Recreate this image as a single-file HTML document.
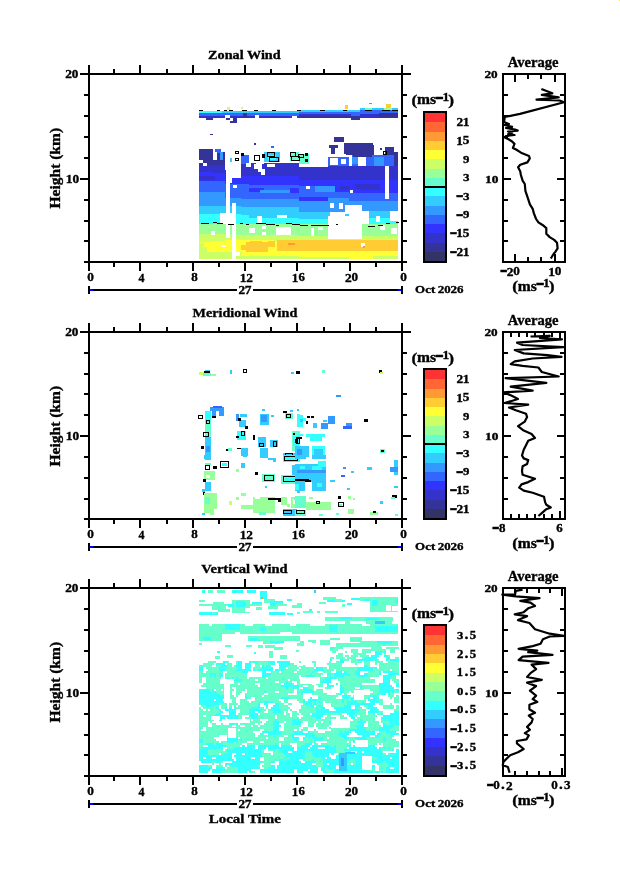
<!DOCTYPE html>
<html><head><meta charset="utf-8"><title>Wind profiles</title>
<style>html,body{margin:0;padding:0;background:#fff;overflow:hidden;}svg{display:block;}text{fill:#000;stroke:#000;stroke-width:0.35px;}</style>
</head><body><svg width="620" height="873" viewBox="0 0 620 873" shape-rendering="crispEdges"><rect x="199" y="111" width="199" height="2" fill="#33ccff"/>
<rect x="199" y="113" width="199" height="2.5" fill="#3366ff"/>
<rect x="199" y="115.5" width="199" height="2" fill="#3333cc"/>
<rect x="199" y="111" width="23" height="1.5" fill="#33ffff"/>
<rect x="206" y="117.5" width="7" height="2.5" fill="#333399"/>
<rect x="225" y="114.5" width="5" height="3.5" fill="#ffffff"/>
<rect x="226" y="118" width="4" height="1.6" fill="#333399"/>
<rect x="233" y="117" width="4" height="6" fill="#333399"/>
<rect x="230" y="121" width="7" height="2" fill="#333399"/>
<rect x="243" y="113" width="4" height="4.5" fill="#333399"/>
<rect x="255" y="115" width="4" height="3" fill="#ffffff"/>
<rect x="292" y="116" width="5" height="2" fill="#ffffff"/>
<rect x="299" y="109.5" width="61" height="2" fill="#33ccff"/>
<rect x="299" y="111.5" width="52" height="2.5" fill="#3366ff"/>
<rect x="299" y="114" width="52" height="1.5" fill="#3333cc"/>
<rect x="299" y="115.5" width="52" height="2.5" fill="#333399"/>
<rect x="351" y="112" width="9" height="4" fill="#3366ff"/>
<rect x="351" y="116" width="9" height="4" fill="#333399"/>
<rect x="360" y="107.5" width="38" height="2.5" fill="#33ccff"/>
<rect x="360" y="110" width="38" height="4" fill="#3366ff"/>
<rect x="379" y="113" width="19" height="4" fill="#333399"/>
<rect x="360" y="114" width="19" height="2" fill="#3333cc"/>
<rect x="199" y="109.5" width="4" height="1.5" fill="#000000"/>
<rect x="217" y="109.5" width="3" height="1.5" fill="#000000"/>
<rect x="224" y="109.5" width="3" height="1.5" fill="#000000"/>
<rect x="229" y="109.5" width="4" height="1.5" fill="#000000"/>
<rect x="242" y="109.5" width="5" height="1.5" fill="#000000"/>
<rect x="254" y="109.5" width="4" height="1.5" fill="#000000"/>
<rect x="272" y="109.5" width="4" height="1.5" fill="#000000"/>
<rect x="297" y="109.5" width="4" height="1.5" fill="#000000"/>
<rect x="320" y="109.5" width="5" height="1.5" fill="#000000"/>
<rect x="343" y="109.5" width="4" height="1.5" fill="#000000"/>
<rect x="365" y="109.5" width="7" height="1.5" fill="#000000"/>
<rect x="382" y="109.5" width="8" height="1.5" fill="#000000"/>
<rect x="392" y="109.5" width="6" height="1.5" fill="#000000"/>
<rect x="226.5" y="107" width="3.5" height="3" fill="#ccff66"/>
<rect x="241" y="107" width="2" height="2" fill="#ccff66"/>
<rect x="345" y="105" width="3" height="3.5" fill="#ffcc33"/>
<rect x="369" y="102.5" width="3" height="1.5" fill="#ff6633"/>
<rect x="386" y="104" width="5" height="3.5" fill="#ffcc33"/>
<rect x="365" y="108" width="7" height="2" fill="#66ffcc"/>
<rect x="384" y="107.5" width="8" height="2" fill="#99ff99"/>
<rect x="210" y="133.7" width="3" height="1" fill="#333399"/>
<rect x="254" y="143" width="2" height="2" fill="#333399"/>
<rect x="270.6" y="145.6" width="3.4" height="2.1" fill="#3366ff"/>
<rect x="199" y="149.3" width="14" height="15.2" fill="#333399"/>
<rect x="199" y="164.5" width="14" height="7.5" fill="#3333cc"/>
<rect x="199" y="172" width="14" height="8.5" fill="#3333ff"/>
<rect x="199" y="180.5" width="14" height="11.2" fill="#3366ff"/>
<rect x="199" y="191.7" width="14" height="13.9" fill="#3399ff"/>
<rect x="199" y="205.6" width="14" height="8.4" fill="#33ccff"/>
<rect x="199" y="214" width="14" height="9.5" fill="#33ffff"/>
<rect x="199" y="223.5" width="14" height="10.1" fill="#99ff99"/>
<rect x="199" y="233.6" width="14" height="8.4" fill="#ccff66"/>
<rect x="199" y="242" width="14" height="9.7" fill="#ffff33"/>
<rect x="199" y="251.7" width="14" height="7.3" fill="#ccff66"/>
<rect x="213" y="152" width="12" height="12.5" fill="#333399"/>
<rect x="213" y="164.5" width="12" height="8.5" fill="#3333cc"/>
<rect x="213" y="173" width="12" height="8" fill="#3333ff"/>
<rect x="213" y="181" width="12" height="11" fill="#3366ff"/>
<rect x="213" y="192" width="12" height="14" fill="#3399ff"/>
<rect x="213" y="206" width="12" height="8" fill="#33ccff"/>
<rect x="213" y="214" width="12" height="9.5" fill="#33ffff"/>
<rect x="213" y="223.5" width="12" height="10.5" fill="#99ff99"/>
<rect x="213" y="234" width="12" height="7" fill="#ccff66"/>
<rect x="213" y="241" width="12" height="10.7" fill="#ffff33"/>
<rect x="213" y="251.7" width="12" height="7.3" fill="#ccff66"/>
<rect x="225" y="170" width="16" height="8" fill="#3333cc"/>
<rect x="225" y="178" width="16" height="6" fill="#3333ff"/>
<rect x="225" y="184" width="16" height="14" fill="#3366ff"/>
<rect x="225" y="198" width="16" height="8" fill="#3399ff"/>
<rect x="225" y="206" width="16" height="8" fill="#33ccff"/>
<rect x="225" y="214" width="16" height="9.5" fill="#33ffff"/>
<rect x="225" y="223.5" width="16" height="11.5" fill="#99ff99"/>
<rect x="225" y="235" width="16" height="5" fill="#ccff66"/>
<rect x="225" y="240" width="16" height="11.7" fill="#ffff33"/>
<rect x="225" y="251.7" width="16" height="7.3" fill="#ccff66"/>
<rect x="241" y="155" width="8" height="9" fill="#3366ff"/>
<rect x="241" y="164" width="8" height="12" fill="#3333cc"/>
<rect x="241" y="176" width="8" height="8" fill="#3333ff"/>
<rect x="241" y="184" width="8" height="15" fill="#3366ff"/>
<rect x="241" y="199" width="8" height="8" fill="#3399ff"/>
<rect x="241" y="207" width="8" height="8" fill="#33ccff"/>
<rect x="241" y="215" width="8" height="8.5" fill="#33ffff"/>
<rect x="241" y="223.5" width="8" height="11.5" fill="#99ff99"/>
<rect x="241" y="235" width="8" height="5" fill="#ccff66"/>
<rect x="241" y="240" width="8" height="11" fill="#ffff33"/>
<rect x="241" y="251" width="8" height="5" fill="#ffff33"/>
<rect x="241" y="256" width="8" height="3" fill="#ccff66"/>
<rect x="249" y="164" width="15" height="12" fill="#3333cc"/>
<rect x="249" y="176" width="15" height="9" fill="#3333ff"/>
<rect x="249" y="185" width="15" height="14" fill="#3366ff"/>
<rect x="249" y="199" width="15" height="8" fill="#3399ff"/>
<rect x="249" y="207" width="15" height="11" fill="#33ccff"/>
<rect x="249" y="218" width="15" height="6" fill="#33ffff"/>
<rect x="249" y="224" width="15" height="11" fill="#99ff99"/>
<rect x="249" y="235" width="15" height="5" fill="#ccff66"/>
<rect x="249" y="240" width="15" height="12" fill="#ffff33"/>
<rect x="249" y="252" width="15" height="4" fill="#ffff33"/>
<rect x="249" y="256" width="15" height="3" fill="#ccff66"/>
<rect x="264" y="163" width="10" height="13" fill="#3333cc"/>
<rect x="264" y="176" width="10" height="9" fill="#3333ff"/>
<rect x="264" y="185" width="10" height="14" fill="#3366ff"/>
<rect x="264" y="199" width="10" height="8" fill="#3399ff"/>
<rect x="264" y="207" width="10" height="11" fill="#33ccff"/>
<rect x="264" y="218" width="10" height="6" fill="#33ffff"/>
<rect x="264" y="224" width="10" height="11" fill="#99ff99"/>
<rect x="264" y="235" width="10" height="5" fill="#ccff66"/>
<rect x="264" y="240" width="10" height="12" fill="#ffff33"/>
<rect x="264" y="252" width="10" height="4" fill="#ffff33"/>
<rect x="264" y="256" width="10" height="3" fill="#ccff66"/>
<rect x="274" y="163" width="3" height="13" fill="#3333cc"/>
<rect x="274" y="176" width="3" height="9" fill="#3333ff"/>
<rect x="274" y="185" width="3" height="14" fill="#3366ff"/>
<rect x="274" y="199" width="3" height="8" fill="#3399ff"/>
<rect x="274" y="207" width="3" height="11" fill="#33ccff"/>
<rect x="274" y="218" width="3" height="6" fill="#33ffff"/>
<rect x="274" y="224" width="3" height="11" fill="#99ff99"/>
<rect x="274" y="235" width="3" height="6" fill="#ccff66"/>
<rect x="274" y="241" width="3" height="15" fill="#ffff33"/>
<rect x="274" y="256" width="3" height="3" fill="#ccff66"/>
<rect x="277" y="163" width="22" height="13" fill="#3333cc"/>
<rect x="277" y="176" width="22" height="9" fill="#3333ff"/>
<rect x="277" y="185" width="22" height="14" fill="#3366ff"/>
<rect x="277" y="199" width="22" height="8" fill="#3399ff"/>
<rect x="277" y="207" width="22" height="11" fill="#33ccff"/>
<rect x="277" y="218" width="22" height="6" fill="#33ffff"/>
<rect x="277" y="224" width="22" height="11" fill="#99ff99"/>
<rect x="277" y="235" width="22" height="5" fill="#ccff66"/>
<rect x="277" y="240" width="22" height="12" fill="#ffff33"/>
<rect x="277" y="252" width="22" height="4" fill="#ffff33"/>
<rect x="277" y="256" width="22" height="3" fill="#ccff66"/>
<rect x="299" y="167" width="29" height="13" fill="#3333cc"/>
<rect x="299" y="180" width="29" height="6" fill="#3333ff"/>
<rect x="299" y="186" width="29" height="10.5" fill="#3366ff"/>
<rect x="299" y="196.5" width="29" height="4.5" fill="#3333ff"/>
<rect x="299" y="201" width="29" height="10.6" fill="#3399ff"/>
<rect x="299" y="211.6" width="29" height="7.4" fill="#33ccff"/>
<rect x="299" y="219" width="29" height="5" fill="#33ffff"/>
<rect x="299" y="224" width="29" height="11.8" fill="#99ff99"/>
<rect x="299" y="235.8" width="29" height="4.6" fill="#ccff66"/>
<rect x="299" y="240.4" width="29" height="10.6" fill="#ffcc33"/>
<rect x="299" y="251" width="29" height="6" fill="#ffff33"/>
<rect x="299" y="257" width="29" height="2" fill="#ccff66"/>
<rect x="328" y="156.5" width="21" height="9.5" fill="#3366ff"/>
<rect x="328" y="166" width="21" height="14" fill="#3333cc"/>
<rect x="328" y="180" width="21" height="12" fill="#3333ff"/>
<rect x="328" y="192" width="21" height="6" fill="#3366ff"/>
<rect x="328" y="198" width="21" height="13.6" fill="#3399ff"/>
<rect x="328" y="211.6" width="21" height="4.4" fill="#33ccff"/>
<rect x="328" y="239" width="21" height="1.4" fill="#ccff66"/>
<rect x="328" y="240.4" width="21" height="10.6" fill="#ffcc33"/>
<rect x="328" y="251" width="21" height="6" fill="#ffff33"/>
<rect x="328" y="257" width="21" height="2" fill="#ccff66"/>
<rect x="349" y="155" width="13" height="11" fill="#3366ff"/>
<rect x="349" y="166" width="13" height="14" fill="#3333cc"/>
<rect x="349" y="180" width="13" height="13" fill="#3333ff"/>
<rect x="349" y="193" width="13" height="8" fill="#3366ff"/>
<rect x="349" y="201" width="13" height="4" fill="#3399ff"/>
<rect x="349" y="239" width="13" height="1" fill="#ccff66"/>
<rect x="349" y="240" width="13" height="11" fill="#ffcc33"/>
<rect x="349" y="251" width="13" height="8" fill="#ffff33"/>
<rect x="362" y="155" width="11" height="11" fill="#3366ff"/>
<rect x="362" y="166" width="11" height="14" fill="#3333cc"/>
<rect x="362" y="180" width="11" height="13" fill="#3333ff"/>
<rect x="362" y="193" width="11" height="8" fill="#3366ff"/>
<rect x="362" y="201" width="11" height="10" fill="#3399ff"/>
<rect x="362" y="211" width="11" height="7" fill="#33ccff"/>
<rect x="362" y="218" width="11" height="6" fill="#33ffff"/>
<rect x="362" y="224" width="11" height="12" fill="#99ff99"/>
<rect x="362" y="236" width="11" height="4" fill="#ccff66"/>
<rect x="362" y="240" width="11" height="11" fill="#ffcc33"/>
<rect x="362" y="251" width="11" height="8" fill="#ffff33"/>
<rect x="373" y="155" width="25" height="11" fill="#3366ff"/>
<rect x="373" y="166" width="25" height="14" fill="#3333cc"/>
<rect x="373" y="180" width="25" height="13" fill="#3333ff"/>
<rect x="373" y="193" width="25" height="8" fill="#3366ff"/>
<rect x="373" y="201" width="25" height="10" fill="#3399ff"/>
<rect x="373" y="211" width="25" height="7" fill="#33ccff"/>
<rect x="373" y="218" width="25" height="6" fill="#33ffff"/>
<rect x="373" y="224" width="25" height="12" fill="#99ff99"/>
<rect x="373" y="236" width="25" height="4" fill="#ccff66"/>
<rect x="373" y="240" width="25" height="11" fill="#ffcc33"/>
<rect x="373" y="251" width="25" height="5" fill="#ffff33"/>
<rect x="373" y="256" width="25" height="3" fill="#ccff66"/>
<rect x="199" y="176" width="16" height="4" fill="#3333cc"/>
<rect x="249" y="188" width="15" height="4" fill="#3333ff"/>
<rect x="290" y="188" width="9" height="5" fill="#3333ff"/>
<rect x="260" y="190" width="30" height="3" fill="#3399ff"/>
<rect x="315" y="186" width="20" height="6" fill="#3399ff"/>
<rect x="355" y="184" width="25" height="5" fill="#3333cc"/>
<rect x="288" y="243.4" width="7" height="1.3" fill="#ff9933"/>
<rect x="376" y="216" width="4" height="6" fill="#ffffff"/>
<rect x="199" y="149.3" width="4" height="5.7" fill="#333399"/>
<rect x="199" y="160" width="4" height="3" fill="#ffffff"/>
<rect x="203" y="163" width="4" height="3" fill="#ffffff"/>
<rect x="213" y="152" width="4" height="8" fill="#ffffff"/>
<rect x="217" y="149" width="3" height="4" fill="#3366ff"/>
<rect x="220" y="152" width="3" height="12" fill="#3399ff"/>
<rect x="213" y="160" width="11" height="4.5" fill="#333399"/>
<rect x="215" y="149" width="6" height="3" fill="#3366ff"/>
<rect x="230.4" y="157.7" width="1.6" height="4.3" fill="#33ccff"/>
<rect x="240.5" y="155" width="7.5" height="17" fill="#3366ff"/>
<rect x="241" y="164" width="7" height="8" fill="#3333cc"/>
<rect x="251" y="162.7" width="5" height="9.3" fill="#3333cc"/>
<rect x="246" y="163" width="5" height="4" fill="#ffffff"/>
<rect x="254" y="164" width="8" height="5" fill="#ffffff"/>
<rect x="258" y="169" width="7" height="3" fill="#ffffff"/>
<rect x="260.5" y="172" width="4.5" height="3" fill="#ffffff"/>
<rect x="266.5" y="164" width="8.5" height="3" fill="#ffffff"/>
<rect x="264" y="152" width="16" height="10" fill="#33ccff"/>
<rect x="268" y="155" width="8" height="5" fill="#33ffff"/>
<rect x="290" y="152" width="9" height="9" fill="#66ffcc"/>
<rect x="299" y="154" width="10" height="10" fill="#66ffcc"/>
<rect x="333.7" y="136.8" width="10.3" height="5.2" fill="#333399"/>
<rect x="329" y="145" width="9" height="3" fill="#333399"/>
<rect x="331" y="148" width="4" height="6" fill="#333399"/>
<rect x="344" y="143" width="5" height="11" fill="#333399"/>
<rect x="349" y="143" width="24" height="12" fill="#333399"/>
<rect x="346" y="145" width="28" height="10" fill="#333399"/>
<rect x="353" y="150" width="19" height="7" fill="#333399"/>
<rect x="344" y="142.5" width="13" height="7.5" fill="#333399"/>
<rect x="385" y="147" width="9" height="8" fill="#333399"/>
<rect x="380" y="150" width="5" height="5" fill="#ffffff"/>
<rect x="394" y="152" width="4" height="14" fill="#333399"/>
<rect x="380" y="148" width="2" height="2" fill="#333399"/>
<rect x="330" y="158" width="8" height="7" fill="#ffffff"/>
<rect x="341" y="159" width="5" height="5" fill="#ffffff"/>
<rect x="349" y="155" width="3" height="11" fill="#ffffff"/>
<rect x="352" y="157" width="6" height="7" fill="#3399ff"/>
<rect x="358" y="157" width="8" height="9" fill="#ffffff"/>
<rect x="374" y="157" width="10" height="9" fill="#3399ff"/>
<rect x="225.5" y="163.7" width="4.9" height="74.1" fill="#ffffff"/>
<rect x="230.4" y="170" width="10.6" height="8" fill="#ffffff"/>
<rect x="232" y="203" width="4" height="56" fill="#ffffff"/>
<rect x="220" y="212.6" width="12" height="11.4" fill="#ffffff"/>
<rect x="230" y="178" width="2" height="5" fill="#ffffff"/>
<rect x="233" y="185" width="4" height="3" fill="#ffffff"/>
<rect x="384.5" y="166" width="4.1" height="33" fill="#ffffff"/>
<rect x="390" y="211" width="8" height="10" fill="#ffffff"/>
<rect x="391" y="228" width="6" height="6" fill="#ffffff"/>
<rect x="257" y="216" width="4.6" height="8" fill="#ffffff"/>
<rect x="277" y="215.4" width="9.7" height="2.6" fill="#ffffff"/>
<rect x="276" y="226.6" width="15" height="8.4" fill="#ffffff"/>
<rect x="249" y="228" width="6" height="5" fill="#ffffff"/>
<rect x="262" y="226" width="4" height="3" fill="#ffffff"/>
<rect x="262" y="232" width="4" height="3" fill="#ffffff"/>
<rect x="311" y="228" width="3" height="8" fill="#ffffff"/>
<rect x="318" y="227" width="5" height="3" fill="#ffffff"/>
<rect x="330" y="203" width="3.7" height="5" fill="#ffffff"/>
<rect x="339" y="203" width="4" height="5.6" fill="#ffffff"/>
<rect x="345" y="211.6" width="4" height="2.4" fill="#ffffff"/>
<rect x="345" y="205" width="4" height="8" fill="#ffffff"/>
<rect x="361" y="242.6" width="4" height="4.4" fill="#ffffff"/>
<rect x="363" y="246" width="2" height="2" fill="#ff9933"/>
<rect x="211" y="231" width="4" height="4" fill="#ffffff"/>
<rect x="222" y="245" width="4" height="2" fill="#ffffff"/>
<rect x="236" y="252" width="4" height="4" fill="#ffffff"/>
<rect x="350" y="190" width="3" height="3" fill="#ffffff"/>
<rect x="380" y="225" width="5" height="5" fill="#ffffff"/>
<rect x="241" y="245" width="5" height="5" fill="#ffcc33"/>
<rect x="246" y="241.5" width="22" height="10" fill="#ffcc33"/>
<rect x="268" y="240.6" width="7" height="6.4" fill="#ffcc33"/>
<rect x="250" y="240.5" width="12" height="1" fill="#ffcc33"/>
<rect x="277" y="240" width="22" height="10.5" fill="#ffcc33"/>
<rect x="288" y="242.8" width="7" height="2" fill="#ff9933"/>
<rect x="199" y="243" width="5" height="10" fill="#ccff66"/>
<rect x="204" y="247" width="3" height="6" fill="#ccff66"/>
<rect x="201" y="222.5" width="8.4" height="1.3" fill="#000000"/>
<rect x="212.8" y="222" width="4.2" height="1.3" fill="#000000"/>
<rect x="217" y="223" width="6" height="1.3" fill="#000000"/>
<rect x="228" y="223.5" width="6" height="1.3" fill="#000000"/>
<rect x="240" y="223" width="3" height="1.3" fill="#000000"/>
<rect x="246" y="223.5" width="3" height="1.3" fill="#000000"/>
<rect x="256.4" y="223" width="9.6" height="1.3" fill="#000000"/>
<rect x="266" y="224" width="9" height="1.3" fill="#000000"/>
<rect x="276" y="224.5" width="3" height="1.3" fill="#000000"/>
<rect x="285.8" y="223" width="6.2" height="1.3" fill="#000000"/>
<rect x="292" y="224" width="8" height="1.3" fill="#000000"/>
<rect x="300" y="224.5" width="8" height="1.3" fill="#000000"/>
<rect x="311" y="225" width="9" height="1.3" fill="#000000"/>
<rect x="320" y="224.5" width="9" height="1.3" fill="#000000"/>
<rect x="336" y="224" width="2" height="1.3" fill="#000000"/>
<rect x="368" y="226" width="7" height="1.3" fill="#000000"/>
<rect x="378" y="225" width="5" height="1.3" fill="#000000"/>
<rect x="386" y="223" width="4" height="1.3" fill="#000000"/>
<rect x="396" y="221.5" width="3" height="1.3" fill="#000000"/>
<rect x="235.5" y="151" width="3" height="2.5" fill="none" stroke="#000" stroke-width="1"/>
<rect x="241" y="152.5" width="3" height="3" fill="#000000"/>
<rect x="235.5" y="158.5" width="3" height="2" fill="none" stroke="#000" stroke-width="1"/>
<rect x="254" y="155.5" width="5.5" height="5" fill="none" stroke="#000" stroke-width="1"/>
<rect x="262" y="154" width="3" height="4" fill="#000000"/>
<rect x="267.5" y="152.5" width="7" height="4" fill="none" stroke="#000" stroke-width="1"/>
<rect x="269.5" y="157" width="9" height="4" fill="none" stroke="#000" stroke-width="1"/>
<rect x="290" y="152" width="5.5" height="4" fill="none" stroke="#000" stroke-width="1"/>
<rect x="291.5" y="156.5" width="8" height="4" fill="none" stroke="#000" stroke-width="1"/>
<rect x="298.5" y="154.5" width="5" height="3" fill="none" stroke="#000" stroke-width="1"/>
<rect x="305" y="153" width="3" height="3" fill="#000000"/>
<rect x="305" y="159" width="3" height="3" fill="#000000"/>
<rect x="383.5" y="151.5" width="3" height="3" fill="none" stroke="#000" stroke-width="1"/>
<rect x="305.6" y="185.6" width="4.1" height="3.4" fill="#ffffff"/>
<rect x="340" y="186" width="9" height="4" fill="#3333cc"/>
<rect x="360" y="184" width="20" height="6" fill="#3333cc"/>
<rect x="362" y="210.5" width="7" height="13.5" fill="#ffffff"/>
<rect x="330" y="212" width="15" height="4" fill="#ffffff"/>
<rect x="199" y="372" width="7" height="2.5" fill="#ccff66"/>
<rect x="206" y="373.5" width="10" height="2.5" fill="#99ff99"/>
<rect x="203" y="373" width="8" height="3" fill="#66ffcc"/>
<rect x="205" y="369.5" width="5" height="1.5" fill="#33ccff"/>
<rect x="204" y="371" width="6" height="1.5" fill="#000000"/>
<rect x="230" y="370" width="2" height="3.6" fill="#33ccff"/>
<rect x="243.5" y="369.5" width="3" height="2.7" fill="none" stroke="#000" stroke-width="1"/>
<rect x="291" y="372" width="3" height="1.6" fill="#33ccff"/>
<rect x="296" y="371" width="4" height="2.6" fill="#000000"/>
<rect x="322" y="369.7" width="3" height="2.8" fill="#66ffcc"/>
<rect x="379" y="370" width="3" height="3" fill="#000000"/>
<rect x="380" y="372" width="3" height="2" fill="#ccff66"/>
<rect x="335.6" y="394.6" width="5.2" height="2.1" fill="#3399ff"/>
<rect x="210" y="406.8" width="14" height="4.2" fill="#3399ff"/>
<rect x="212" y="411" width="4" height="5" fill="#3399ff"/>
<rect x="219" y="411" width="5" height="5" fill="#3399ff"/>
<rect x="213" y="406" width="9" height="2" fill="#3366ff"/>
<rect x="205" y="411" width="6" height="11" fill="#33ffff"/>
<rect x="205" y="422" width="6" height="15" fill="#66ffcc"/>
<rect x="205" y="437" width="6" height="23" fill="#33ccff"/>
<rect x="206" y="446" width="4" height="6" fill="#3399ff"/>
<rect x="198" y="415.5" width="4.1" height="2.6" fill="none" stroke="#000" stroke-width="1"/>
<rect x="206.5" y="420" width="3" height="3.5" fill="none" stroke="#000" stroke-width="1"/>
<rect x="203.5" y="432.5" width="5" height="4" fill="none" stroke="#000" stroke-width="1"/>
<rect x="201" y="446" width="2.5" height="3" fill="#000000"/>
<rect x="212" y="416" width="4" height="1.5" fill="#000000"/>
<rect x="235.6" y="414.4" width="3.4" height="6.1" fill="#3399ff"/>
<rect x="240" y="414.4" width="7" height="2.6" fill="#33ccff"/>
<rect x="239" y="420" width="7" height="7" fill="#33ccff"/>
<rect x="238" y="418" width="3" height="3" fill="#000000"/>
<rect x="245" y="425.5" width="2.5" height="3.3" fill="#000000"/>
<rect x="236.5" y="430.5" width="9.5" height="9.5" fill="#33ffff"/>
<rect x="241.5" y="431.5" width="3" height="3.5" fill="none" stroke="#000" stroke-width="1"/>
<rect x="236" y="436" width="3" height="2" fill="#000000"/>
<rect x="240.7" y="448" width="6.8" height="8" fill="#33ccff"/>
<rect x="237" y="447.5" width="4" height="1.5" fill="#000000"/>
<rect x="225.5" y="449" width="3.5" height="2" fill="#000000"/>
<rect x="228" y="448" width="4" height="3" fill="#66ffcc"/>
<rect x="260" y="413.5" width="8.7" height="11" fill="#33ccff"/>
<rect x="261" y="415" width="6" height="7" fill="#3399ff"/>
<rect x="262" y="409" width="3" height="2" fill="#33ccff"/>
<rect x="271" y="415" width="3" height="2" fill="#33ccff"/>
<rect x="252.6" y="434.7" width="2.4" height="5.3" fill="#000000"/>
<rect x="258" y="437" width="8" height="10.4" fill="#33ccff"/>
<rect x="259.5" y="443.5" width="4" height="3" fill="none" stroke="#000" stroke-width="1"/>
<rect x="269.5" y="439.8" width="8.5" height="6.8" fill="#33ccff"/>
<rect x="273.5" y="441" width="3" height="5.1" fill="none" stroke="#000" stroke-width="1"/>
<rect x="260" y="448" width="8" height="9.6" fill="#33ccff"/>
<rect x="268" y="457.6" width="7" height="2.4" fill="#33ccff"/>
<rect x="285" y="413" width="8" height="6" fill="#66ffcc"/>
<rect x="286.5" y="414" width="4" height="3" fill="none" stroke="#000" stroke-width="1"/>
<rect x="290" y="410" width="3" height="2" fill="#33ccff"/>
<rect x="296.6" y="413.5" width="3.4" height="13.5" fill="#33ffff"/>
<rect x="283" y="411" width="4" height="2" fill="#000000"/>
<rect x="291.5" y="430.5" width="8.5" height="20.5" fill="#66ffcc"/>
<rect x="293" y="436" width="6" height="10" fill="#33ffff"/>
<rect x="296.5" y="437.5" width="3" height="6" fill="none" stroke="#000" stroke-width="1"/>
<rect x="293" y="433" width="3" height="2" fill="#000000"/>
<rect x="283" y="452.5" width="15" height="7.5" fill="#33ccff"/>
<rect x="285.5" y="453" width="7" height="2.5" fill="none" stroke="#000" stroke-width="1"/>
<rect x="296.8" y="415" width="6.2" height="11.6" fill="#33ffff"/>
<rect x="300" y="419" width="3" height="3" fill="#33ccff"/>
<rect x="307" y="416" width="3" height="2" fill="#000000"/>
<rect x="311" y="416" width="3" height="2" fill="#000000"/>
<rect x="306" y="421" width="2" height="3" fill="#000000"/>
<rect x="303" y="418" width="3" height="3" fill="#33ffff"/>
<rect x="296.8" y="409" width="2.6" height="1.6" fill="#33ccff"/>
<rect x="312.7" y="423" width="4.3" height="5.4" fill="#33ccff"/>
<rect x="320.7" y="423" width="7.1" height="6.3" fill="#3399ff"/>
<rect x="327.8" y="416" width="7.2" height="8" fill="#3399ff"/>
<rect x="323" y="420" width="4" height="2" fill="#33ccff"/>
<rect x="343" y="425.5" width="9" height="3.8" fill="#3366ff"/>
<rect x="346" y="423" width="6" height="3" fill="#3399ff"/>
<rect x="364" y="418.6" width="3.7" height="3.4" fill="#000000"/>
<rect x="296" y="437" width="6" height="2" fill="#000000"/>
<rect x="295" y="439" width="3" height="4" fill="#000000"/>
<rect x="298" y="434" width="5" height="2" fill="#33ffff"/>
<rect x="295" y="433" width="2" height="3" fill="#66ffcc"/>
<rect x="305.6" y="433.7" width="19.4" height="3.3" fill="#33ffff"/>
<rect x="310" y="437" width="12" height="3.8" fill="#33ffff"/>
<rect x="295" y="446" width="14" height="11" fill="#33ccff"/>
<rect x="297" y="449" width="5" height="6" fill="#3399ff"/>
<rect x="312" y="446" width="13" height="13" fill="#33ffff"/>
<rect x="314" y="449" width="9" height="9" fill="#33ccff"/>
<rect x="380" y="448.8" width="4.6" height="4.2" fill="#66ffcc"/>
<rect x="381" y="449.5" width="3" height="2.5" fill="#000000"/>
<rect x="204" y="455" width="7" height="4" fill="#33ccff"/>
<rect x="205" y="462.6" width="6" height="2.4" fill="#66ffcc"/>
<rect x="205.5" y="465.5" width="4" height="4" fill="none" stroke="#000" stroke-width="1"/>
<rect x="213" y="466" width="4" height="2.5" fill="#000000"/>
<rect x="220.5" y="461.5" width="8" height="6" fill="none" stroke="#000" stroke-width="1"/>
<rect x="222" y="463" width="5" height="3" fill="#33ffff"/>
<rect x="203.5" y="471" width="11.5" height="8.5" fill="#99ff99"/>
<rect x="206" y="475" width="4" height="2.5" fill="#ffffff"/>
<rect x="203" y="479" width="3" height="3" fill="#000000"/>
<rect x="205" y="482" width="6" height="8.6" fill="#33ccff"/>
<rect x="202" y="489" width="3" height="2.5" fill="#33ccff"/>
<rect x="203" y="492" width="2" height="2.5" fill="#000000"/>
<rect x="203.5" y="493" width="13.5" height="19.6" fill="#99ff99"/>
<rect x="205" y="497" width="5" height="7" fill="#66ffcc"/>
<rect x="214" y="509" width="3" height="4" fill="#ffffff"/>
<rect x="202" y="512.6" width="3" height="2.4" fill="#33ccff"/>
<rect x="210" y="513" width="4" height="2" fill="#99ff99"/>
<rect x="240.7" y="462.6" width="4.3" height="5.1" fill="#33ccff"/>
<rect x="235.6" y="468.5" width="3.4" height="3.5" fill="#99ff99"/>
<rect x="229" y="500.7" width="3" height="4.3" fill="#ccff66"/>
<rect x="236" y="497" width="3" height="2.5" fill="#99ff99"/>
<rect x="241" y="493" width="5" height="2.5" fill="#99ff99"/>
<rect x="240.7" y="505" width="13.3" height="4" fill="#99ff99"/>
<rect x="252.6" y="496.5" width="22" height="16.1" fill="#99ff99"/>
<rect x="259" y="512" width="7" height="3" fill="#66ffcc"/>
<rect x="255" y="496.5" width="5" height="2.5" fill="#ffffff"/>
<rect x="268" y="497.5" width="15" height="2.5" fill="#000000"/>
<rect x="278" y="499.5" width="5" height="2.3" fill="#000000"/>
<rect x="281" y="497" width="6" height="8" fill="#99ff99"/>
<rect x="286.5" y="504" width="3.5" height="3" fill="#99ff99"/>
<rect x="290.7" y="496.5" width="9.3" height="11" fill="#99ff99"/>
<rect x="293" y="499" width="4" height="5" fill="#ffffff"/>
<rect x="294" y="497" width="5" height="3" fill="#66ffcc"/>
<rect x="283" y="509" width="13.6" height="7" fill="#33ccff"/>
<rect x="283.5" y="510.5" width="8" height="3" fill="none" stroke="#000" stroke-width="1"/>
<rect x="243" y="455" width="4" height="2" fill="#33ccff"/>
<rect x="261" y="455" width="7" height="3.4" fill="#33ccff"/>
<rect x="273" y="458.4" width="3" height="3.4" fill="#33ccff"/>
<rect x="283" y="455" width="17" height="6.8" fill="#33ffff"/>
<rect x="284.5" y="456.5" width="13" height="4" fill="none" stroke="#000" stroke-width="1"/>
<rect x="291.5" y="465" width="8.5" height="10" fill="#33ccff"/>
<rect x="295" y="468" width="5" height="5" fill="#3399ff"/>
<rect x="255" y="472" width="2.7" height="3" fill="#000000"/>
<rect x="262" y="473.6" width="13.4" height="8.4" fill="#66ffcc"/>
<rect x="264.5" y="475.5" width="9" height="5" fill="none" stroke="#000" stroke-width="1"/>
<rect x="266" y="476.5" width="6" height="3" fill="#66ffcc"/>
<rect x="281.4" y="474.5" width="18.6" height="9.3" fill="#66ffcc"/>
<rect x="283.5" y="476.5" width="16" height="5" fill="none" stroke="#000" stroke-width="1"/>
<rect x="285" y="477.5" width="13" height="3" fill="#33ffff"/>
<rect x="264.5" y="485.5" width="2.5" height="2.5" fill="#33ccff"/>
<rect x="296.6" y="483" width="3.4" height="10" fill="#33ccff"/>
<rect x="295" y="455" width="10.6" height="4.4" fill="#33ccff"/>
<rect x="312" y="455" width="14" height="4.4" fill="#33ccff"/>
<rect x="295" y="464" width="31" height="26.5" fill="#33ccff"/>
<rect x="297" y="470" width="29" height="3" fill="#3399ff"/>
<rect x="300" y="466" width="5" height="3" fill="#33ffff"/>
<rect x="312" y="466" width="10" height="4" fill="#33ffff"/>
<rect x="318" y="461" width="8" height="6" fill="#33ffff"/>
<rect x="305" y="482" width="7" height="8.5" fill="#ffffff"/>
<rect x="317" y="483" width="5" height="4" fill="#33ffff"/>
<rect x="295" y="484" width="4" height="6" fill="#33ffff"/>
<rect x="295" y="479" width="14" height="2" fill="#000000"/>
<rect x="305" y="480" width="6" height="2" fill="#000000"/>
<rect x="295" y="495.8" width="10.6" height="12.2" fill="#66ffcc"/>
<rect x="305.6" y="502" width="24.9" height="8" fill="#99ff99"/>
<rect x="309" y="497" width="4" height="2" fill="#99ff99"/>
<rect x="316.5" y="501.5" width="3" height="2" fill="none" stroke="#000" stroke-width="1"/>
<rect x="337.6" y="495.5" width="3.4" height="3.5" fill="#000000"/>
<rect x="338.1" y="502.5" width="5.2" height="4.3" fill="none" stroke="#000" stroke-width="1"/>
<rect x="339" y="503.5" width="3" height="2.5" fill="#66ffcc"/>
<rect x="348" y="509" width="5.5" height="5.4" fill="#99ff99"/>
<rect x="348" y="495.8" width="3" height="2.7" fill="#99ff99"/>
<rect x="353" y="498" width="2" height="2" fill="#99ff99"/>
<rect x="343" y="467.4" width="3" height="1.6" fill="#3399ff"/>
<rect x="351" y="470.5" width="3" height="2" fill="#33ccff"/>
<rect x="367" y="467.4" width="5" height="2.6" fill="#33ccff"/>
<rect x="341" y="474.5" width="4" height="2" fill="#3366ff"/>
<rect x="330" y="480" width="5" height="1.5" fill="#33ccff"/>
<rect x="347" y="487.8" width="3" height="1.7" fill="#33ccff"/>
<rect x="394" y="460" width="4" height="14.5" fill="#33ccff"/>
<rect x="390" y="467" width="8" height="5" fill="#3399ff"/>
<rect x="394" y="461" width="3" height="2" fill="#33ccff"/>
<rect x="393.5" y="486" width="4.5" height="1.5" fill="#33ccff"/>
<rect x="391.5" y="495" width="5.5" height="2.5" fill="#000000"/>
<rect x="391" y="497" width="4" height="2" fill="#66ffcc"/>
<rect x="380" y="501" width="3" height="2.8" fill="#33ccff"/>
<rect x="369.5" y="512" width="8.9" height="3" fill="#99ff99"/>
<rect x="373" y="511" width="3" height="2" fill="#000000"/>
<rect x="395" y="513.5" width="3" height="2.5" fill="#66ffcc"/>
<rect x="295" y="510" width="10.6" height="6" fill="#66ffcc"/>
<rect x="296.5" y="510.5" width="8" height="3" fill="none" stroke="#000" stroke-width="1"/>
<rect x="298" y="511.5" width="5" height="1.5" fill="#66ffcc"/>
<rect x="319" y="513.5" width="4" height="2.5" fill="#66ffcc"/>
<rect x="336" y="512.5" width="3" height="2" fill="#66ffcc"/>
<rect x="202" y="590" width="3" height="2.5" fill="#33ffff"/>
<rect x="208" y="590" width="5" height="2.5" fill="#66ffcc"/>
<rect x="217" y="590" width="8" height="2.5" fill="#66ffcc"/>
<rect x="232" y="590" width="11" height="2.5" fill="#33ffff"/>
<rect x="247" y="590" width="9" height="2.5" fill="#33ffff"/>
<rect x="314" y="590" width="2" height="2.5" fill="#33ccff"/>
<rect x="260" y="591" width="7" height="8" fill="#33ffff"/>
<rect x="261" y="597" width="2" height="2" fill="#ff9933"/>
<rect x="199" y="600" width="6" height="2" fill="#66ffcc"/>
<rect x="199" y="604" width="63" height="2" fill="#66ffcc"/>
<rect x="213" y="602" width="11" height="2" fill="#66ffcc"/>
<rect x="212" y="606" width="14" height="4" fill="#66ffcc"/>
<rect x="232" y="600" width="18" height="13" fill="#66ffcc"/>
<rect x="236" y="601" width="9" height="6" fill="#33ffff"/>
<rect x="245" y="608" width="5" height="4" fill="#ffffff"/>
<rect x="218" y="609" width="12" height="3" fill="#66ffcc"/>
<rect x="228" y="604" width="6" height="3" fill="#33ffff"/>
<rect x="252" y="602" width="10" height="2" fill="#33ffff"/>
<rect x="256" y="607" width="6" height="3" fill="#66ffcc"/>
<rect x="199" y="612" width="19" height="3" fill="#33ffff"/>
<rect x="212" y="612" width="4" height="2" fill="#66ffcc"/>
<rect x="269" y="612" width="16" height="3" fill="#33ffff"/>
<rect x="287" y="613" width="6" height="2" fill="#33ffff"/>
<rect x="264" y="599" width="11" height="4" fill="#66ffcc"/>
<rect x="270" y="601" width="13" height="5" fill="#33ffff"/>
<rect x="275" y="604" width="12" height="2" fill="#66ffcc"/>
<rect x="268" y="606" width="10" height="3" fill="#66ffcc"/>
<rect x="287" y="599" width="5" height="2" fill="#33ffff"/>
<rect x="292" y="605" width="6" height="3" fill="#66ffcc"/>
<rect x="297" y="603" width="5" height="5" fill="#66ffcc"/>
<rect x="323" y="597" width="13" height="3" fill="#66ffcc"/>
<rect x="327" y="600" width="18" height="2" fill="#33ffff"/>
<rect x="335" y="599" width="7" height="3" fill="#66ffcc"/>
<rect x="351" y="598" width="9" height="2" fill="#33ffff"/>
<rect x="360" y="597" width="12" height="4" fill="#66ffcc"/>
<rect x="364" y="599" width="8" height="2" fill="#33ffff"/>
<rect x="369.5" y="597" width="28.5" height="14.6" fill="#66ffcc"/>
<rect x="372" y="600" width="6" height="6" fill="#33ffff"/>
<rect x="386" y="605" width="5" height="6" fill="#ffffff"/>
<rect x="378" y="606" width="6" height="5" fill="#66ffcc"/>
<rect x="392" y="606" width="6" height="5" fill="#ffffff"/>
<rect x="395" y="599" width="3" height="4" fill="#33ffff"/>
<rect x="319" y="602" width="7" height="2" fill="#66ffcc"/>
<rect x="342" y="604" width="3" height="3" fill="#66ffcc"/>
<rect x="347" y="603" width="5" height="2" fill="#33ffff"/>
<rect x="309" y="609" width="3" height="2" fill="#33ffff"/>
<rect x="297" y="612" width="3" height="2" fill="#66ffcc"/>
<rect x="303" y="611" width="10" height="2" fill="#66ffcc"/>
<rect x="317" y="611" width="3" height="2" fill="#66ffcc"/>
<rect x="325" y="611" width="13" height="2" fill="#66ffcc"/>
<rect x="325" y="617" width="67.6" height="3.5" fill="#66ffcc"/>
<rect x="340" y="617" width="12" height="2" fill="#33ffff"/>
<rect x="366" y="618" width="14" height="2" fill="#33ffff"/>
<rect x="345" y="620" width="5" height="4" fill="#66ffcc"/>
<rect x="366" y="620" width="26" height="5" fill="#66ffcc"/>
<rect x="375" y="621" width="10" height="3" fill="#33ccff"/>
<rect x="199" y="624" width="199" height="10" fill="#66ffcc"/>
<rect x="225" y="624" width="15" height="6" fill="#33ffff"/>
<rect x="260" y="627" width="6" height="4" fill="#33ffff"/>
<rect x="329" y="625" width="8" height="7" fill="#33ffff"/>
<rect x="375" y="626" width="23" height="6" fill="#33ffff"/>
<rect x="209" y="624" width="3" height="2" fill="#ffffff"/>
<rect x="245" y="624" width="8" height="2" fill="#ffffff"/>
<rect x="265" y="624" width="7" height="2" fill="#ffffff"/>
<rect x="290" y="624" width="6" height="2" fill="#ffffff"/>
<rect x="310" y="624" width="15" height="2" fill="#ffffff"/>
<rect x="362" y="624" width="8" height="2" fill="#ffffff"/>
<rect x="280" y="632" width="12" height="2" fill="#ffffff"/>
<rect x="235" y="632" width="5" height="2" fill="#ffffff"/>
<rect x="199" y="634" width="23" height="7" fill="#66ffcc"/>
<rect x="203" y="637" width="8" height="3" fill="#33ffff"/>
<rect x="248" y="636" width="52" height="5" fill="#66ffcc"/>
<rect x="263" y="640" width="17" height="4" fill="#66ffcc"/>
<rect x="250" y="638" width="8" height="3" fill="#33ffff"/>
<rect x="270" y="641" width="14" height="2" fill="#33ffff"/>
<rect x="300" y="641" width="4" height="2" fill="#66ffcc"/>
<rect x="308" y="640" width="8" height="2" fill="#66ffcc"/>
<rect x="330" y="638" width="10" height="2" fill="#66ffcc"/>
<rect x="350" y="637" width="12" height="5" fill="#66ffcc"/>
<rect x="360" y="641" width="38" height="5" fill="#66ffcc"/>
<rect x="377" y="641" width="15" height="3" fill="#33ffff"/>
<rect x="320" y="640" width="10" height="5" fill="#66ffcc"/>
<rect x="336" y="643" width="45" height="4" fill="#66ffcc"/>
<rect x="297" y="643" width="7" height="3" fill="#66ffcc"/>
<rect x="312" y="641" width="4" height="2" fill="#66ffcc"/>
<rect x="199" y="643" width="3" height="2" fill="#66ffcc"/>
<rect x="265" y="645" width="10" height="3" fill="#66ffcc"/>
<rect x="217" y="651" width="3" height="2" fill="#33ffff"/>
<rect x="215" y="656" width="5" height="3" fill="#66ffcc"/>
<rect x="227" y="655" width="6" height="3" fill="#66ffcc"/>
<rect x="254" y="652" width="2" height="2" fill="#33ffff"/>
<rect x="269" y="651" width="4" height="7" fill="#66ffcc"/>
<rect x="274" y="647" width="9" height="3" fill="#66ffcc"/>
<rect x="280" y="655" width="7" height="4" fill="#66ffcc"/>
<rect x="296" y="650" width="3" height="2" fill="#66ffcc"/>
<rect x="299" y="666" width="7" height="1" fill="#66ffcc"/>
<rect x="258" y="645" width="5" height="3" fill="#66ffcc"/>
<rect x="225" y="645" width="6" height="2" fill="#66ffcc"/>
<rect x="246" y="645" width="6" height="2" fill="#66ffcc"/>
<rect x="207.68" y="661" width="8.68" height="2" fill="#66ffcc"/>
<rect x="222.87" y="661" width="4.34" height="2" fill="#33ffff"/>
<rect x="227.21" y="661" width="2.17" height="2" fill="#66ffcc"/>
<rect x="235.89" y="661" width="2.17" height="2" fill="#66ffcc"/>
<rect x="238.06" y="661" width="4.34" height="2" fill="#33ffff"/>
<rect x="248.91" y="661" width="2.17" height="2" fill="#33ffff"/>
<rect x="251.08" y="661" width="2.17" height="2" fill="#66ffcc"/>
<rect x="253.25" y="661" width="4.34" height="2" fill="#33ffff"/>
<rect x="257.59" y="661" width="10.85" height="2" fill="#66ffcc"/>
<rect x="268.44" y="661" width="6.51" height="2" fill="#33ffff"/>
<rect x="277.12" y="661" width="13.02" height="2" fill="#33ffff"/>
<rect x="298.82" y="661" width="2.17" height="2" fill="#66ffcc"/>
<rect x="311.84" y="661" width="4.34" height="2" fill="#66ffcc"/>
<rect x="329.2" y="661" width="2.17" height="2" fill="#66ffcc"/>
<rect x="335.71" y="661" width="4.34" height="2" fill="#66ffcc"/>
<rect x="340.05" y="661" width="4.34" height="2" fill="#33ffff"/>
<rect x="350.9" y="661" width="10.85" height="2" fill="#66ffcc"/>
<rect x="363.92" y="661" width="6.51" height="2" fill="#66ffcc"/>
<rect x="374.77" y="661" width="8.68" height="2" fill="#66ffcc"/>
<rect x="387.79" y="661" width="10.85" height="2" fill="#66ffcc"/>
<rect x="203.34" y="663" width="10.85" height="2" fill="#66ffcc"/>
<rect x="216.36" y="663" width="8.68" height="2" fill="#33ffff"/>
<rect x="227.21" y="663" width="4.34" height="2" fill="#66ffcc"/>
<rect x="235.89" y="663" width="2.17" height="2" fill="#66ffcc"/>
<rect x="238.06" y="663" width="4.34" height="2" fill="#33ffff"/>
<rect x="244.57" y="663" width="6.51" height="2" fill="#33ffff"/>
<rect x="255.42" y="663" width="15.19" height="2" fill="#66ffcc"/>
<rect x="270.61" y="663" width="4.34" height="2" fill="#33ffff"/>
<rect x="279.29" y="663" width="10.85" height="2" fill="#33ffff"/>
<rect x="290.14" y="663" width="4.34" height="2" fill="#66ffcc"/>
<rect x="314.01" y="663" width="2.17" height="2" fill="#66ffcc"/>
<rect x="327.03" y="663" width="15.19" height="2" fill="#66ffcc"/>
<rect x="355.24" y="663" width="2.17" height="2" fill="#66ffcc"/>
<rect x="363.92" y="663" width="6.51" height="2" fill="#66ffcc"/>
<rect x="374.77" y="663" width="2.17" height="2" fill="#66ffcc"/>
<rect x="379.11" y="663" width="19.53" height="2" fill="#66ffcc"/>
<rect x="199" y="665" width="2.17" height="2" fill="#66ffcc"/>
<rect x="201.17" y="665" width="2.17" height="2" fill="#33ffff"/>
<rect x="203.34" y="665" width="8.68" height="2" fill="#66ffcc"/>
<rect x="216.36" y="665" width="4.34" height="2" fill="#66ffcc"/>
<rect x="220.7" y="665" width="6.51" height="2" fill="#33ffff"/>
<rect x="227.21" y="665" width="4.34" height="2" fill="#66ffcc"/>
<rect x="233.72" y="665" width="2.17" height="2" fill="#66ffcc"/>
<rect x="235.89" y="665" width="6.51" height="2" fill="#33ffff"/>
<rect x="244.57" y="665" width="6.51" height="2" fill="#33ffff"/>
<rect x="255.42" y="665" width="4.34" height="2" fill="#66ffcc"/>
<rect x="261.93" y="665" width="2.17" height="2" fill="#33ffff"/>
<rect x="264.1" y="665" width="2.17" height="2" fill="#66ffcc"/>
<rect x="266.27" y="665" width="4.34" height="2" fill="#33ffff"/>
<rect x="279.29" y="665" width="8.68" height="2" fill="#33ffff"/>
<rect x="287.97" y="665" width="8.68" height="2" fill="#66ffcc"/>
<rect x="303.16" y="665" width="2.17" height="2" fill="#66ffcc"/>
<rect x="314.01" y="665" width="2.17" height="2" fill="#66ffcc"/>
<rect x="329.2" y="665" width="13.02" height="2" fill="#66ffcc"/>
<rect x="363.92" y="665" width="4.34" height="2" fill="#33ffff"/>
<rect x="368.26" y="665" width="2.17" height="2" fill="#66ffcc"/>
<rect x="379.11" y="665" width="19.53" height="2" fill="#66ffcc"/>
<rect x="199" y="667" width="4.34" height="2" fill="#33ffff"/>
<rect x="205.51" y="667" width="13.02" height="2" fill="#66ffcc"/>
<rect x="218.53" y="667" width="6.51" height="2" fill="#33ffff"/>
<rect x="225.04" y="667" width="13.02" height="2" fill="#66ffcc"/>
<rect x="238.06" y="667" width="4.34" height="2" fill="#33ffff"/>
<rect x="244.57" y="667" width="4.34" height="2" fill="#33ffff"/>
<rect x="248.91" y="667" width="2.17" height="2" fill="#66ffcc"/>
<rect x="253.25" y="667" width="8.68" height="2" fill="#66ffcc"/>
<rect x="261.93" y="667" width="10.85" height="2" fill="#33ffff"/>
<rect x="279.29" y="667" width="4.34" height="2" fill="#33ffff"/>
<rect x="283.63" y="667" width="2.17" height="2" fill="#66ffcc"/>
<rect x="287.97" y="667" width="10.85" height="2" fill="#66ffcc"/>
<rect x="300.99" y="667" width="13.02" height="2" fill="#66ffcc"/>
<rect x="316.18" y="667" width="6.51" height="2" fill="#33ffff"/>
<rect x="322.69" y="667" width="4.34" height="2" fill="#66ffcc"/>
<rect x="329.2" y="667" width="28.21" height="2" fill="#66ffcc"/>
<rect x="357.41" y="667" width="15.19" height="2" fill="#33ffff"/>
<rect x="372.6" y="667" width="2.17" height="2" fill="#66ffcc"/>
<rect x="374.77" y="667" width="2.17" height="2" fill="#33ffff"/>
<rect x="379.11" y="667" width="19.53" height="2" fill="#66ffcc"/>
<rect x="199" y="669" width="4.34" height="2" fill="#33ffff"/>
<rect x="207.68" y="669" width="10.85" height="2" fill="#66ffcc"/>
<rect x="218.53" y="669" width="6.51" height="2" fill="#33ffff"/>
<rect x="225.04" y="669" width="10.85" height="2" fill="#66ffcc"/>
<rect x="235.89" y="669" width="15.19" height="2" fill="#33ffff"/>
<rect x="253.25" y="669" width="2.17" height="2" fill="#33ffff"/>
<rect x="255.42" y="669" width="2.17" height="2" fill="#66ffcc"/>
<rect x="257.59" y="669" width="15.19" height="2" fill="#33ffff"/>
<rect x="274.95" y="669" width="4.34" height="2" fill="#33ffff"/>
<rect x="279.29" y="669" width="2.17" height="2" fill="#66ffcc"/>
<rect x="281.46" y="669" width="2.17" height="2" fill="#33ffff"/>
<rect x="283.63" y="669" width="13.02" height="2" fill="#66ffcc"/>
<rect x="298.82" y="669" width="15.19" height="2" fill="#66ffcc"/>
<rect x="314.01" y="669" width="8.68" height="2" fill="#33ffff"/>
<rect x="322.69" y="669" width="10.85" height="2" fill="#66ffcc"/>
<rect x="335.71" y="669" width="21.7" height="2" fill="#66ffcc"/>
<rect x="357.41" y="669" width="15.19" height="2" fill="#33ffff"/>
<rect x="372.6" y="669" width="17.36" height="2" fill="#66ffcc"/>
<rect x="392.13" y="669" width="6.51" height="2" fill="#66ffcc"/>
<rect x="199" y="671" width="4.34" height="2" fill="#66ffcc"/>
<rect x="205.51" y="671" width="17.36" height="2" fill="#66ffcc"/>
<rect x="227.21" y="671" width="15.19" height="2" fill="#66ffcc"/>
<rect x="242.4" y="671" width="23.87" height="2" fill="#33ffff"/>
<rect x="270.61" y="671" width="8.68" height="2" fill="#66ffcc"/>
<rect x="281.46" y="671" width="13.02" height="2" fill="#66ffcc"/>
<rect x="296.65" y="671" width="15.19" height="2" fill="#66ffcc"/>
<rect x="311.84" y="671" width="2.17" height="2" fill="#33ffff"/>
<rect x="314.01" y="671" width="4.34" height="2" fill="#66ffcc"/>
<rect x="322.69" y="671" width="8.68" height="2" fill="#66ffcc"/>
<rect x="335.71" y="671" width="6.51" height="2" fill="#33ffff"/>
<rect x="344.39" y="671" width="2.17" height="2" fill="#33ffff"/>
<rect x="346.56" y="671" width="8.68" height="2" fill="#66ffcc"/>
<rect x="355.24" y="671" width="4.34" height="2" fill="#33ffff"/>
<rect x="368.26" y="671" width="10.85" height="2" fill="#66ffcc"/>
<rect x="379.11" y="671" width="2.17" height="2" fill="#33ffff"/>
<rect x="383.45" y="671" width="13.02" height="2" fill="#33ffff"/>
<rect x="396.47" y="671" width="2.17" height="2" fill="#66ffcc"/>
<rect x="199" y="673" width="10.85" height="2" fill="#66ffcc"/>
<rect x="209.85" y="673" width="6.51" height="2" fill="#33ffff"/>
<rect x="216.36" y="673" width="2.17" height="2" fill="#66ffcc"/>
<rect x="218.53" y="673" width="4.34" height="2" fill="#33ffff"/>
<rect x="225.04" y="673" width="21.7" height="2" fill="#66ffcc"/>
<rect x="253.25" y="673" width="17.36" height="2" fill="#33ffff"/>
<rect x="270.61" y="673" width="39.06" height="2" fill="#66ffcc"/>
<rect x="309.67" y="673" width="2.17" height="2" fill="#33ffff"/>
<rect x="311.84" y="673" width="10.85" height="2" fill="#66ffcc"/>
<rect x="327.03" y="673" width="4.34" height="2" fill="#33ffff"/>
<rect x="331.37" y="673" width="2.17" height="2" fill="#66ffcc"/>
<rect x="333.54" y="673" width="15.19" height="2" fill="#33ffff"/>
<rect x="348.73" y="673" width="6.51" height="2" fill="#66ffcc"/>
<rect x="355.24" y="673" width="4.34" height="2" fill="#33ffff"/>
<rect x="363.92" y="673" width="4.34" height="2" fill="#33ffff"/>
<rect x="368.26" y="673" width="10.85" height="2" fill="#66ffcc"/>
<rect x="379.11" y="673" width="2.17" height="2" fill="#33ffff"/>
<rect x="387.79" y="673" width="10.85" height="2" fill="#33ffff"/>
<rect x="199" y="675" width="10.85" height="2" fill="#66ffcc"/>
<rect x="209.85" y="675" width="2.17" height="2" fill="#33ffff"/>
<rect x="212.02" y="675" width="2.17" height="2" fill="#66ffcc"/>
<rect x="214.19" y="675" width="2.17" height="2" fill="#33ffff"/>
<rect x="216.36" y="675" width="2.17" height="2" fill="#66ffcc"/>
<rect x="218.53" y="675" width="4.34" height="2" fill="#33ffff"/>
<rect x="225.04" y="675" width="21.7" height="2" fill="#66ffcc"/>
<rect x="251.08" y="675" width="17.36" height="2" fill="#33ffff"/>
<rect x="268.44" y="675" width="30.38" height="2" fill="#66ffcc"/>
<rect x="300.99" y="675" width="4.34" height="2" fill="#66ffcc"/>
<rect x="305.33" y="675" width="8.68" height="2" fill="#33ffff"/>
<rect x="314.01" y="675" width="6.51" height="2" fill="#66ffcc"/>
<rect x="327.03" y="675" width="2.17" height="2" fill="#66ffcc"/>
<rect x="329.2" y="675" width="2.17" height="2" fill="#33ffff"/>
<rect x="331.37" y="675" width="2.17" height="2" fill="#66ffcc"/>
<rect x="333.54" y="675" width="10.85" height="2" fill="#33ffff"/>
<rect x="344.39" y="675" width="13.02" height="2" fill="#66ffcc"/>
<rect x="357.41" y="675" width="10.85" height="2" fill="#33ffff"/>
<rect x="368.26" y="675" width="10.85" height="2" fill="#66ffcc"/>
<rect x="383.45" y="675" width="8.68" height="2" fill="#33ffff"/>
<rect x="392.13" y="675" width="4.34" height="2" fill="#66ffcc"/>
<rect x="199" y="677" width="4.34" height="2" fill="#66ffcc"/>
<rect x="205.51" y="677" width="15.19" height="2" fill="#66ffcc"/>
<rect x="225.04" y="677" width="2.17" height="2" fill="#66ffcc"/>
<rect x="227.21" y="677" width="2.17" height="2" fill="#33ffff"/>
<rect x="229.38" y="677" width="2.17" height="2" fill="#66ffcc"/>
<rect x="231.55" y="677" width="2.17" height="2" fill="#33ffff"/>
<rect x="233.72" y="677" width="2.17" height="2" fill="#66ffcc"/>
<rect x="235.89" y="677" width="2.17" height="2" fill="#33ffff"/>
<rect x="238.06" y="677" width="8.68" height="2" fill="#66ffcc"/>
<rect x="248.91" y="677" width="17.36" height="2" fill="#66ffcc"/>
<rect x="268.44" y="677" width="30.38" height="2" fill="#66ffcc"/>
<rect x="303.16" y="677" width="2.17" height="2" fill="#66ffcc"/>
<rect x="305.33" y="677" width="6.51" height="2" fill="#33ffff"/>
<rect x="311.84" y="677" width="2.17" height="2" fill="#66ffcc"/>
<rect x="314.01" y="677" width="2.17" height="2" fill="#33ffff"/>
<rect x="316.18" y="677" width="8.68" height="2" fill="#66ffcc"/>
<rect x="324.86" y="677" width="10.85" height="2" fill="#33ffff"/>
<rect x="335.71" y="677" width="34.72" height="2" fill="#66ffcc"/>
<rect x="383.45" y="677" width="6.51" height="2" fill="#33ffff"/>
<rect x="389.96" y="677" width="6.51" height="2" fill="#66ffcc"/>
<rect x="199" y="679" width="28.21" height="2" fill="#66ffcc"/>
<rect x="227.21" y="679" width="15.19" height="2" fill="#33ffff"/>
<rect x="242.4" y="679" width="13.02" height="2" fill="#66ffcc"/>
<rect x="257.59" y="679" width="30.38" height="2" fill="#66ffcc"/>
<rect x="290.14" y="679" width="15.19" height="2" fill="#66ffcc"/>
<rect x="305.33" y="679" width="2.17" height="2" fill="#33ffff"/>
<rect x="307.5" y="679" width="2.17" height="2" fill="#66ffcc"/>
<rect x="309.67" y="679" width="10.85" height="2" fill="#33ffff"/>
<rect x="320.52" y="679" width="2.17" height="2" fill="#66ffcc"/>
<rect x="322.69" y="679" width="8.68" height="2" fill="#33ffff"/>
<rect x="337.88" y="679" width="36.89" height="2" fill="#66ffcc"/>
<rect x="383.45" y="679" width="6.51" height="2" fill="#33ffff"/>
<rect x="392.13" y="679" width="6.51" height="2" fill="#66ffcc"/>
<rect x="199" y="681" width="75.95" height="2" fill="#66ffcc"/>
<rect x="279.29" y="681" width="6.51" height="2" fill="#66ffcc"/>
<rect x="285.8" y="681" width="2.17" height="2" fill="#33ffff"/>
<rect x="287.97" y="681" width="4.34" height="2" fill="#66ffcc"/>
<rect x="296.65" y="681" width="8.68" height="2" fill="#66ffcc"/>
<rect x="305.33" y="681" width="2.17" height="2" fill="#33ffff"/>
<rect x="307.5" y="681" width="13.02" height="2" fill="#66ffcc"/>
<rect x="320.52" y="681" width="10.85" height="2" fill="#33ffff"/>
<rect x="340.05" y="681" width="34.72" height="2" fill="#66ffcc"/>
<rect x="383.45" y="681" width="6.51" height="2" fill="#33ffff"/>
<rect x="394.3" y="681" width="4.34" height="2" fill="#66ffcc"/>
<rect x="203.34" y="683" width="23.87" height="2" fill="#66ffcc"/>
<rect x="229.38" y="683" width="8.68" height="2" fill="#66ffcc"/>
<rect x="240.23" y="683" width="15.19" height="2" fill="#66ffcc"/>
<rect x="259.76" y="683" width="21.7" height="2" fill="#66ffcc"/>
<rect x="283.63" y="683" width="8.68" height="2" fill="#33ffff"/>
<rect x="292.31" y="683" width="2.17" height="2" fill="#66ffcc"/>
<rect x="296.65" y="683" width="15.19" height="2" fill="#66ffcc"/>
<rect x="316.18" y="683" width="6.51" height="2" fill="#66ffcc"/>
<rect x="327.03" y="683" width="2.17" height="2" fill="#33ffff"/>
<rect x="335.71" y="683" width="2.17" height="2" fill="#33ffff"/>
<rect x="340.05" y="683" width="21.7" height="2" fill="#66ffcc"/>
<rect x="379.11" y="683" width="10.85" height="2" fill="#33ffff"/>
<rect x="396.47" y="683" width="2.17" height="2" fill="#33ffff"/>
<rect x="201.17" y="685" width="56.42" height="2" fill="#66ffcc"/>
<rect x="259.76" y="685" width="21.7" height="2" fill="#66ffcc"/>
<rect x="281.46" y="685" width="17.36" height="2" fill="#33ffff"/>
<rect x="298.82" y="685" width="4.34" height="2" fill="#66ffcc"/>
<rect x="307.5" y="685" width="6.51" height="2" fill="#66ffcc"/>
<rect x="318.35" y="685" width="4.34" height="2" fill="#66ffcc"/>
<rect x="327.03" y="685" width="6.51" height="2" fill="#33ffff"/>
<rect x="340.05" y="685" width="2.17" height="2" fill="#33ffff"/>
<rect x="342.22" y="685" width="17.36" height="2" fill="#66ffcc"/>
<rect x="359.58" y="685" width="2.17" height="2" fill="#33ffff"/>
<rect x="361.75" y="685" width="17.36" height="2" fill="#66ffcc"/>
<rect x="379.11" y="685" width="13.02" height="2" fill="#33ffff"/>
<rect x="396.47" y="685" width="2.17" height="2" fill="#33ffff"/>
<rect x="205.51" y="687" width="26.04" height="2" fill="#66ffcc"/>
<rect x="235.89" y="687" width="49.91" height="2" fill="#66ffcc"/>
<rect x="285.8" y="687" width="2.17" height="2" fill="#33ffff"/>
<rect x="287.97" y="687" width="4.34" height="2" fill="#66ffcc"/>
<rect x="292.31" y="687" width="2.17" height="2" fill="#33ffff"/>
<rect x="294.48" y="687" width="2.17" height="2" fill="#66ffcc"/>
<rect x="296.65" y="687" width="2.17" height="2" fill="#33ffff"/>
<rect x="303.16" y="687" width="4.34" height="2" fill="#33ffff"/>
<rect x="307.5" y="687" width="6.51" height="2" fill="#66ffcc"/>
<rect x="324.86" y="687" width="6.51" height="2" fill="#66ffcc"/>
<rect x="340.05" y="687" width="4.34" height="2" fill="#33ffff"/>
<rect x="344.39" y="687" width="10.85" height="2" fill="#66ffcc"/>
<rect x="359.58" y="687" width="2.17" height="2" fill="#33ffff"/>
<rect x="361.75" y="687" width="17.36" height="2" fill="#66ffcc"/>
<rect x="379.11" y="687" width="15.19" height="2" fill="#33ffff"/>
<rect x="199" y="689" width="10.85" height="2" fill="#33ffff"/>
<rect x="209.85" y="689" width="2.17" height="2" fill="#66ffcc"/>
<rect x="212.02" y="689" width="2.17" height="2" fill="#33ffff"/>
<rect x="216.36" y="689" width="4.34" height="2" fill="#66ffcc"/>
<rect x="222.87" y="689" width="10.85" height="2" fill="#66ffcc"/>
<rect x="235.89" y="689" width="8.68" height="2" fill="#66ffcc"/>
<rect x="246.74" y="689" width="47.74" height="2" fill="#66ffcc"/>
<rect x="296.65" y="689" width="6.51" height="2" fill="#66ffcc"/>
<rect x="303.16" y="689" width="8.68" height="2" fill="#33ffff"/>
<rect x="311.84" y="689" width="2.17" height="2" fill="#66ffcc"/>
<rect x="316.18" y="689" width="6.51" height="2" fill="#66ffcc"/>
<rect x="340.05" y="689" width="4.34" height="2" fill="#33ffff"/>
<rect x="344.39" y="689" width="19.53" height="2" fill="#66ffcc"/>
<rect x="370.43" y="689" width="8.68" height="2" fill="#66ffcc"/>
<rect x="379.11" y="689" width="15.19" height="2" fill="#33ffff"/>
<rect x="394.3" y="689" width="2.17" height="2" fill="#66ffcc"/>
<rect x="396.47" y="689" width="2.17" height="2" fill="#33ffff"/>
<rect x="199" y="691" width="17.36" height="2" fill="#33ffff"/>
<rect x="216.36" y="691" width="15.19" height="2" fill="#66ffcc"/>
<rect x="235.89" y="691" width="6.51" height="2" fill="#66ffcc"/>
<rect x="246.74" y="691" width="17.36" height="2" fill="#66ffcc"/>
<rect x="264.1" y="691" width="2.17" height="2" fill="#33ffff"/>
<rect x="266.27" y="691" width="8.68" height="2" fill="#66ffcc"/>
<rect x="279.29" y="691" width="15.19" height="2" fill="#66ffcc"/>
<rect x="296.65" y="691" width="2.17" height="2" fill="#33ffff"/>
<rect x="298.82" y="691" width="2.17" height="2" fill="#66ffcc"/>
<rect x="300.99" y="691" width="13.02" height="2" fill="#33ffff"/>
<rect x="314.01" y="691" width="8.68" height="2" fill="#66ffcc"/>
<rect x="340.05" y="691" width="4.34" height="2" fill="#33ffff"/>
<rect x="344.39" y="691" width="4.34" height="2" fill="#66ffcc"/>
<rect x="350.9" y="691" width="13.02" height="2" fill="#66ffcc"/>
<rect x="372.6" y="691" width="6.51" height="2" fill="#66ffcc"/>
<rect x="379.11" y="691" width="10.85" height="2" fill="#33ffff"/>
<rect x="389.96" y="691" width="2.17" height="2" fill="#66ffcc"/>
<rect x="392.13" y="691" width="2.17" height="2" fill="#33ffff"/>
<rect x="394.3" y="691" width="4.34" height="2" fill="#66ffcc"/>
<rect x="199" y="693" width="19.53" height="2" fill="#33ffff"/>
<rect x="218.53" y="693" width="13.02" height="2" fill="#66ffcc"/>
<rect x="235.89" y="693" width="4.34" height="2" fill="#66ffcc"/>
<rect x="244.57" y="693" width="19.53" height="2" fill="#66ffcc"/>
<rect x="268.44" y="693" width="19.53" height="2" fill="#66ffcc"/>
<rect x="296.65" y="693" width="4.34" height="2" fill="#66ffcc"/>
<rect x="300.99" y="693" width="2.17" height="2" fill="#33ffff"/>
<rect x="311.84" y="693" width="15.19" height="2" fill="#66ffcc"/>
<rect x="335.71" y="693" width="4.34" height="2" fill="#66ffcc"/>
<rect x="340.05" y="693" width="2.17" height="2" fill="#33ffff"/>
<rect x="344.39" y="693" width="2.17" height="2" fill="#66ffcc"/>
<rect x="359.58" y="693" width="4.34" height="2" fill="#66ffcc"/>
<rect x="370.43" y="693" width="6.51" height="2" fill="#66ffcc"/>
<rect x="376.94" y="693" width="2.17" height="2" fill="#33ffff"/>
<rect x="379.11" y="693" width="2.17" height="2" fill="#66ffcc"/>
<rect x="381.28" y="693" width="4.34" height="2" fill="#33ffff"/>
<rect x="387.79" y="693" width="2.17" height="2" fill="#33ffff"/>
<rect x="389.96" y="693" width="4.34" height="2" fill="#66ffcc"/>
<rect x="199" y="695" width="28.21" height="2" fill="#33ffff"/>
<rect x="227.21" y="695" width="6.51" height="2" fill="#66ffcc"/>
<rect x="235.89" y="695" width="2.17" height="2" fill="#66ffcc"/>
<rect x="244.57" y="695" width="2.17" height="2" fill="#33ffff"/>
<rect x="246.74" y="695" width="15.19" height="2" fill="#66ffcc"/>
<rect x="264.1" y="695" width="39.06" height="2" fill="#66ffcc"/>
<rect x="318.35" y="695" width="19.53" height="2" fill="#66ffcc"/>
<rect x="342.22" y="695" width="6.51" height="2" fill="#33ffff"/>
<rect x="348.73" y="695" width="2.17" height="2" fill="#66ffcc"/>
<rect x="353.07" y="695" width="2.17" height="2" fill="#66ffcc"/>
<rect x="357.41" y="695" width="13.02" height="2" fill="#66ffcc"/>
<rect x="370.43" y="695" width="6.51" height="2" fill="#33ffff"/>
<rect x="376.94" y="695" width="2.17" height="2" fill="#66ffcc"/>
<rect x="387.79" y="695" width="6.51" height="2" fill="#66ffcc"/>
<rect x="396.47" y="695" width="2.17" height="2" fill="#66ffcc"/>
<rect x="199" y="697" width="28.21" height="2" fill="#33ffff"/>
<rect x="227.21" y="697" width="8.68" height="2" fill="#66ffcc"/>
<rect x="244.57" y="697" width="2.17" height="2" fill="#33ffff"/>
<rect x="246.74" y="697" width="4.34" height="2" fill="#66ffcc"/>
<rect x="255.42" y="697" width="26.04" height="2" fill="#66ffcc"/>
<rect x="281.46" y="697" width="8.68" height="2" fill="#33ffff"/>
<rect x="290.14" y="697" width="13.02" height="2" fill="#66ffcc"/>
<rect x="309.67" y="697" width="2.17" height="2" fill="#33ffff"/>
<rect x="318.35" y="697" width="2.17" height="2" fill="#33ffff"/>
<rect x="320.52" y="697" width="15.19" height="2" fill="#66ffcc"/>
<rect x="342.22" y="697" width="2.17" height="2" fill="#66ffcc"/>
<rect x="344.39" y="697" width="4.34" height="2" fill="#33ffff"/>
<rect x="348.73" y="697" width="2.17" height="2" fill="#66ffcc"/>
<rect x="350.9" y="697" width="2.17" height="2" fill="#33ffff"/>
<rect x="353.07" y="697" width="15.19" height="2" fill="#66ffcc"/>
<rect x="368.26" y="697" width="2.17" height="2" fill="#33ffff"/>
<rect x="372.6" y="697" width="6.51" height="2" fill="#33ffff"/>
<rect x="389.96" y="697" width="2.17" height="2" fill="#66ffcc"/>
<rect x="394.3" y="697" width="4.34" height="2" fill="#66ffcc"/>
<rect x="199" y="699" width="15.19" height="2" fill="#33ffff"/>
<rect x="216.36" y="699" width="6.51" height="2" fill="#33ffff"/>
<rect x="231.55" y="699" width="4.34" height="2" fill="#66ffcc"/>
<rect x="240.23" y="699" width="6.51" height="2" fill="#66ffcc"/>
<rect x="255.42" y="699" width="23.87" height="2" fill="#66ffcc"/>
<rect x="283.63" y="699" width="4.34" height="2" fill="#66ffcc"/>
<rect x="296.65" y="699" width="6.51" height="2" fill="#66ffcc"/>
<rect x="303.16" y="699" width="2.17" height="2" fill="#33ffff"/>
<rect x="307.5" y="699" width="10.85" height="2" fill="#33ffff"/>
<rect x="318.35" y="699" width="23.87" height="2" fill="#66ffcc"/>
<rect x="342.22" y="699" width="2.17" height="2" fill="#33ffff"/>
<rect x="344.39" y="699" width="6.51" height="2" fill="#66ffcc"/>
<rect x="350.9" y="699" width="2.17" height="2" fill="#33ffff"/>
<rect x="353.07" y="699" width="13.02" height="2" fill="#66ffcc"/>
<rect x="368.26" y="699" width="8.68" height="2" fill="#33ffff"/>
<rect x="376.94" y="699" width="6.51" height="2" fill="#66ffcc"/>
<rect x="394.3" y="699" width="4.34" height="2" fill="#66ffcc"/>
<rect x="199" y="701" width="23.87" height="2" fill="#33ffff"/>
<rect x="222.87" y="701" width="4.34" height="2" fill="#66ffcc"/>
<rect x="231.55" y="701" width="4.34" height="2" fill="#66ffcc"/>
<rect x="240.23" y="701" width="8.68" height="2" fill="#66ffcc"/>
<rect x="251.08" y="701" width="8.68" height="2" fill="#66ffcc"/>
<rect x="259.76" y="701" width="2.17" height="2" fill="#33ffff"/>
<rect x="261.93" y="701" width="2.17" height="2" fill="#66ffcc"/>
<rect x="264.1" y="701" width="8.68" height="2" fill="#33ffff"/>
<rect x="272.78" y="701" width="8.68" height="2" fill="#66ffcc"/>
<rect x="283.63" y="701" width="4.34" height="2" fill="#66ffcc"/>
<rect x="298.82" y="701" width="4.34" height="2" fill="#66ffcc"/>
<rect x="303.16" y="701" width="2.17" height="2" fill="#33ffff"/>
<rect x="305.33" y="701" width="2.17" height="2" fill="#66ffcc"/>
<rect x="307.5" y="701" width="4.34" height="2" fill="#33ffff"/>
<rect x="311.84" y="701" width="2.17" height="2" fill="#66ffcc"/>
<rect x="314.01" y="701" width="2.17" height="2" fill="#33ffff"/>
<rect x="316.18" y="701" width="2.17" height="2" fill="#66ffcc"/>
<rect x="318.35" y="701" width="2.17" height="2" fill="#33ffff"/>
<rect x="320.52" y="701" width="2.17" height="2" fill="#66ffcc"/>
<rect x="324.86" y="701" width="17.36" height="2" fill="#66ffcc"/>
<rect x="342.22" y="701" width="2.17" height="2" fill="#33ffff"/>
<rect x="344.39" y="701" width="2.17" height="2" fill="#66ffcc"/>
<rect x="346.56" y="701" width="10.85" height="2" fill="#33ffff"/>
<rect x="357.41" y="701" width="4.34" height="2" fill="#66ffcc"/>
<rect x="361.75" y="701" width="2.17" height="2" fill="#33ffff"/>
<rect x="363.92" y="701" width="2.17" height="2" fill="#66ffcc"/>
<rect x="370.43" y="701" width="8.68" height="2" fill="#33ffff"/>
<rect x="379.11" y="701" width="4.34" height="2" fill="#66ffcc"/>
<rect x="394.3" y="701" width="4.34" height="2" fill="#66ffcc"/>
<rect x="199" y="703" width="2.17" height="2" fill="#66ffcc"/>
<rect x="201.17" y="703" width="17.36" height="2" fill="#33ffff"/>
<rect x="218.53" y="703" width="8.68" height="2" fill="#66ffcc"/>
<rect x="229.38" y="703" width="8.68" height="2" fill="#66ffcc"/>
<rect x="240.23" y="703" width="17.36" height="2" fill="#66ffcc"/>
<rect x="257.59" y="703" width="2.17" height="2" fill="#33ffff"/>
<rect x="264.1" y="703" width="4.34" height="2" fill="#33ffff"/>
<rect x="274.95" y="703" width="4.34" height="2" fill="#33ffff"/>
<rect x="279.29" y="703" width="4.34" height="2" fill="#66ffcc"/>
<rect x="287.97" y="703" width="4.34" height="2" fill="#66ffcc"/>
<rect x="303.16" y="703" width="2.17" height="2" fill="#66ffcc"/>
<rect x="305.33" y="703" width="6.51" height="2" fill="#33ffff"/>
<rect x="311.84" y="703" width="2.17" height="2" fill="#66ffcc"/>
<rect x="314.01" y="703" width="2.17" height="2" fill="#33ffff"/>
<rect x="316.18" y="703" width="6.51" height="2" fill="#66ffcc"/>
<rect x="331.37" y="703" width="15.19" height="2" fill="#66ffcc"/>
<rect x="346.56" y="703" width="28.21" height="2" fill="#33ffff"/>
<rect x="379.11" y="703" width="4.34" height="2" fill="#66ffcc"/>
<rect x="389.96" y="703" width="2.17" height="2" fill="#66ffcc"/>
<rect x="201.17" y="705" width="4.34" height="2" fill="#66ffcc"/>
<rect x="205.51" y="705" width="8.68" height="2" fill="#33ffff"/>
<rect x="214.19" y="705" width="4.34" height="2" fill="#66ffcc"/>
<rect x="220.7" y="705" width="6.51" height="2" fill="#66ffcc"/>
<rect x="229.38" y="705" width="2.17" height="2" fill="#66ffcc"/>
<rect x="233.72" y="705" width="2.17" height="2" fill="#66ffcc"/>
<rect x="238.06" y="705" width="19.53" height="2" fill="#66ffcc"/>
<rect x="257.59" y="705" width="2.17" height="2" fill="#33ffff"/>
<rect x="266.27" y="705" width="2.17" height="2" fill="#33ffff"/>
<rect x="272.78" y="705" width="6.51" height="2" fill="#33ffff"/>
<rect x="279.29" y="705" width="8.68" height="2" fill="#66ffcc"/>
<rect x="300.99" y="705" width="8.68" height="2" fill="#66ffcc"/>
<rect x="309.67" y="705" width="4.34" height="2" fill="#33ffff"/>
<rect x="316.18" y="705" width="2.17" height="2" fill="#66ffcc"/>
<rect x="318.35" y="705" width="2.17" height="2" fill="#33ffff"/>
<rect x="320.52" y="705" width="2.17" height="2" fill="#66ffcc"/>
<rect x="331.37" y="705" width="13.02" height="2" fill="#66ffcc"/>
<rect x="344.39" y="705" width="6.51" height="2" fill="#33ffff"/>
<rect x="355.24" y="705" width="4.34" height="2" fill="#33ffff"/>
<rect x="363.92" y="705" width="4.34" height="2" fill="#66ffcc"/>
<rect x="368.26" y="705" width="4.34" height="2" fill="#33ffff"/>
<rect x="383.45" y="705" width="10.85" height="2" fill="#66ffcc"/>
<rect x="396.47" y="705" width="2.17" height="2" fill="#66ffcc"/>
<rect x="199" y="707" width="2.17" height="2" fill="#66ffcc"/>
<rect x="203.34" y="707" width="13.02" height="2" fill="#66ffcc"/>
<rect x="216.36" y="707" width="2.17" height="2" fill="#33ffff"/>
<rect x="220.7" y="707" width="4.34" height="2" fill="#66ffcc"/>
<rect x="225.04" y="707" width="2.17" height="2" fill="#33ffff"/>
<rect x="229.38" y="707" width="2.17" height="2" fill="#33ffff"/>
<rect x="233.72" y="707" width="2.17" height="2" fill="#33ffff"/>
<rect x="235.89" y="707" width="15.19" height="2" fill="#66ffcc"/>
<rect x="251.08" y="707" width="8.68" height="2" fill="#33ffff"/>
<rect x="259.76" y="707" width="4.34" height="2" fill="#66ffcc"/>
<rect x="266.27" y="707" width="2.17" height="2" fill="#66ffcc"/>
<rect x="270.61" y="707" width="8.68" height="2" fill="#33ffff"/>
<rect x="279.29" y="707" width="10.85" height="2" fill="#66ffcc"/>
<rect x="300.99" y="707" width="15.19" height="2" fill="#66ffcc"/>
<rect x="316.18" y="707" width="2.17" height="2" fill="#33ffff"/>
<rect x="318.35" y="707" width="2.17" height="2" fill="#66ffcc"/>
<rect x="320.52" y="707" width="4.34" height="2" fill="#33ffff"/>
<rect x="333.54" y="707" width="17.36" height="2" fill="#33ffff"/>
<rect x="355.24" y="707" width="2.17" height="2" fill="#33ffff"/>
<rect x="357.41" y="707" width="4.34" height="2" fill="#66ffcc"/>
<rect x="366.09" y="707" width="2.17" height="2" fill="#66ffcc"/>
<rect x="368.26" y="707" width="8.68" height="2" fill="#33ffff"/>
<rect x="383.45" y="707" width="10.85" height="2" fill="#66ffcc"/>
<rect x="396.47" y="707" width="2.17" height="2" fill="#66ffcc"/>
<rect x="199" y="709" width="4.34" height="2" fill="#66ffcc"/>
<rect x="205.51" y="709" width="2.17" height="2" fill="#66ffcc"/>
<rect x="209.85" y="709" width="8.68" height="2" fill="#66ffcc"/>
<rect x="218.53" y="709" width="2.17" height="2" fill="#33ffff"/>
<rect x="225.04" y="709" width="10.85" height="2" fill="#33ffff"/>
<rect x="240.23" y="709" width="8.68" height="2" fill="#66ffcc"/>
<rect x="248.91" y="709" width="13.02" height="2" fill="#33ffff"/>
<rect x="261.93" y="709" width="4.34" height="2" fill="#66ffcc"/>
<rect x="268.44" y="709" width="2.17" height="2" fill="#66ffcc"/>
<rect x="270.61" y="709" width="10.85" height="2" fill="#33ffff"/>
<rect x="281.46" y="709" width="6.51" height="2" fill="#66ffcc"/>
<rect x="290.14" y="709" width="2.17" height="2" fill="#66ffcc"/>
<rect x="298.82" y="709" width="17.36" height="2" fill="#66ffcc"/>
<rect x="316.18" y="709" width="13.02" height="2" fill="#33ffff"/>
<rect x="335.71" y="709" width="23.87" height="2" fill="#33ffff"/>
<rect x="359.58" y="709" width="6.51" height="2" fill="#66ffcc"/>
<rect x="370.43" y="709" width="6.51" height="2" fill="#33ffff"/>
<rect x="376.94" y="709" width="2.17" height="2" fill="#66ffcc"/>
<rect x="394.3" y="709" width="4.34" height="2" fill="#66ffcc"/>
<rect x="199" y="711" width="19.53" height="2" fill="#66ffcc"/>
<rect x="218.53" y="711" width="4.34" height="2" fill="#33ffff"/>
<rect x="229.38" y="711" width="6.51" height="2" fill="#33ffff"/>
<rect x="240.23" y="711" width="8.68" height="2" fill="#66ffcc"/>
<rect x="248.91" y="711" width="6.51" height="2" fill="#33ffff"/>
<rect x="257.59" y="711" width="2.17" height="2" fill="#33ffff"/>
<rect x="259.76" y="711" width="4.34" height="2" fill="#66ffcc"/>
<rect x="268.44" y="711" width="4.34" height="2" fill="#66ffcc"/>
<rect x="272.78" y="711" width="8.68" height="2" fill="#33ffff"/>
<rect x="281.46" y="711" width="2.17" height="2" fill="#66ffcc"/>
<rect x="285.8" y="711" width="2.17" height="2" fill="#66ffcc"/>
<rect x="292.31" y="711" width="4.34" height="2" fill="#66ffcc"/>
<rect x="298.82" y="711" width="17.36" height="2" fill="#66ffcc"/>
<rect x="316.18" y="711" width="41.23" height="2" fill="#33ffff"/>
<rect x="357.41" y="711" width="8.68" height="2" fill="#66ffcc"/>
<rect x="368.26" y="711" width="10.85" height="2" fill="#33ffff"/>
<rect x="379.11" y="711" width="4.34" height="2" fill="#66ffcc"/>
<rect x="394.3" y="711" width="4.34" height="2" fill="#33ffff"/>
<rect x="199" y="713" width="17.36" height="2" fill="#66ffcc"/>
<rect x="216.36" y="713" width="4.34" height="2" fill="#33ffff"/>
<rect x="229.38" y="713" width="6.51" height="2" fill="#33ffff"/>
<rect x="238.06" y="713" width="10.85" height="2" fill="#66ffcc"/>
<rect x="248.91" y="713" width="8.68" height="2" fill="#33ffff"/>
<rect x="259.76" y="713" width="23.87" height="2" fill="#66ffcc"/>
<rect x="285.8" y="713" width="4.34" height="2" fill="#66ffcc"/>
<rect x="292.31" y="713" width="6.51" height="2" fill="#66ffcc"/>
<rect x="300.99" y="713" width="8.68" height="2" fill="#66ffcc"/>
<rect x="311.84" y="713" width="13.02" height="2" fill="#33ffff"/>
<rect x="324.86" y="713" width="17.36" height="2" fill="#66ffcc"/>
<rect x="346.56" y="713" width="8.68" height="2" fill="#33ffff"/>
<rect x="355.24" y="713" width="10.85" height="2" fill="#66ffcc"/>
<rect x="368.26" y="713" width="4.34" height="2" fill="#66ffcc"/>
<rect x="372.6" y="713" width="2.17" height="2" fill="#33ffff"/>
<rect x="376.94" y="713" width="4.34" height="2" fill="#66ffcc"/>
<rect x="381.28" y="713" width="2.17" height="2" fill="#33ffff"/>
<rect x="389.96" y="713" width="8.68" height="2" fill="#33ffff"/>
<rect x="199" y="715" width="4.34" height="2" fill="#66ffcc"/>
<rect x="205.51" y="715" width="4.34" height="2" fill="#66ffcc"/>
<rect x="209.85" y="715" width="2.17" height="2" fill="#33ffff"/>
<rect x="212.02" y="715" width="2.17" height="2" fill="#66ffcc"/>
<rect x="214.19" y="715" width="23.87" height="2" fill="#33ffff"/>
<rect x="238.06" y="715" width="4.34" height="2" fill="#66ffcc"/>
<rect x="248.91" y="715" width="8.68" height="2" fill="#33ffff"/>
<rect x="257.59" y="715" width="17.36" height="2" fill="#66ffcc"/>
<rect x="277.12" y="715" width="13.02" height="2" fill="#66ffcc"/>
<rect x="292.31" y="715" width="4.34" height="2" fill="#66ffcc"/>
<rect x="303.16" y="715" width="8.68" height="2" fill="#66ffcc"/>
<rect x="311.84" y="715" width="10.85" height="2" fill="#33ffff"/>
<rect x="327.03" y="715" width="4.34" height="2" fill="#66ffcc"/>
<rect x="340.05" y="715" width="4.34" height="2" fill="#66ffcc"/>
<rect x="348.73" y="715" width="4.34" height="2" fill="#33ffff"/>
<rect x="353.07" y="715" width="4.34" height="2" fill="#66ffcc"/>
<rect x="359.58" y="715" width="17.36" height="2" fill="#66ffcc"/>
<rect x="383.45" y="715" width="15.19" height="2" fill="#33ffff"/>
<rect x="199" y="717" width="15.19" height="2" fill="#66ffcc"/>
<rect x="214.19" y="717" width="10.85" height="2" fill="#33ffff"/>
<rect x="227.21" y="717" width="10.85" height="2" fill="#33ffff"/>
<rect x="238.06" y="717" width="4.34" height="2" fill="#66ffcc"/>
<rect x="244.57" y="717" width="6.51" height="2" fill="#66ffcc"/>
<rect x="251.08" y="717" width="6.51" height="2" fill="#33ffff"/>
<rect x="257.59" y="717" width="17.36" height="2" fill="#66ffcc"/>
<rect x="277.12" y="717" width="21.7" height="2" fill="#66ffcc"/>
<rect x="300.99" y="717" width="15.19" height="2" fill="#66ffcc"/>
<rect x="316.18" y="717" width="4.34" height="2" fill="#33ffff"/>
<rect x="324.86" y="717" width="10.85" height="2" fill="#66ffcc"/>
<rect x="340.05" y="717" width="6.51" height="2" fill="#66ffcc"/>
<rect x="350.9" y="717" width="4.34" height="2" fill="#33ffff"/>
<rect x="357.41" y="717" width="17.36" height="2" fill="#66ffcc"/>
<rect x="381.28" y="717" width="17.36" height="2" fill="#33ffff"/>
<rect x="199" y="719" width="15.19" height="2" fill="#66ffcc"/>
<rect x="218.53" y="719" width="2.17" height="2" fill="#33ffff"/>
<rect x="220.7" y="719" width="2.17" height="2" fill="#66ffcc"/>
<rect x="227.21" y="719" width="8.68" height="2" fill="#33ffff"/>
<rect x="240.23" y="719" width="10.85" height="2" fill="#66ffcc"/>
<rect x="253.25" y="719" width="6.51" height="2" fill="#66ffcc"/>
<rect x="268.44" y="719" width="6.51" height="2" fill="#66ffcc"/>
<rect x="274.95" y="719" width="2.17" height="2" fill="#33ffff"/>
<rect x="277.12" y="719" width="15.19" height="2" fill="#66ffcc"/>
<rect x="292.31" y="719" width="6.51" height="2" fill="#33ffff"/>
<rect x="298.82" y="719" width="36.89" height="2" fill="#66ffcc"/>
<rect x="340.05" y="719" width="4.34" height="2" fill="#66ffcc"/>
<rect x="353.07" y="719" width="6.51" height="2" fill="#66ffcc"/>
<rect x="359.58" y="719" width="2.17" height="2" fill="#33ffff"/>
<rect x="361.75" y="719" width="13.02" height="2" fill="#66ffcc"/>
<rect x="381.28" y="719" width="2.17" height="2" fill="#66ffcc"/>
<rect x="383.45" y="719" width="2.17" height="2" fill="#33ffff"/>
<rect x="385.62" y="719" width="2.17" height="2" fill="#66ffcc"/>
<rect x="387.79" y="719" width="10.85" height="2" fill="#33ffff"/>
<rect x="199" y="721" width="8.68" height="2" fill="#66ffcc"/>
<rect x="209.85" y="721" width="2.17" height="2" fill="#66ffcc"/>
<rect x="229.38" y="721" width="8.68" height="2" fill="#33ffff"/>
<rect x="240.23" y="721" width="21.7" height="2" fill="#66ffcc"/>
<rect x="266.27" y="721" width="6.51" height="2" fill="#66ffcc"/>
<rect x="272.78" y="721" width="6.51" height="2" fill="#33ffff"/>
<rect x="279.29" y="721" width="4.34" height="2" fill="#66ffcc"/>
<rect x="285.8" y="721" width="6.51" height="2" fill="#66ffcc"/>
<rect x="292.31" y="721" width="8.68" height="2" fill="#33ffff"/>
<rect x="300.99" y="721" width="2.17" height="2" fill="#66ffcc"/>
<rect x="307.5" y="721" width="8.68" height="2" fill="#66ffcc"/>
<rect x="318.35" y="721" width="2.17" height="2" fill="#66ffcc"/>
<rect x="322.69" y="721" width="6.51" height="2" fill="#66ffcc"/>
<rect x="329.2" y="721" width="4.34" height="2" fill="#33ffff"/>
<rect x="333.54" y="721" width="13.02" height="2" fill="#66ffcc"/>
<rect x="348.73" y="721" width="8.68" height="2" fill="#66ffcc"/>
<rect x="357.41" y="721" width="8.68" height="2" fill="#33ffff"/>
<rect x="368.26" y="721" width="10.85" height="2" fill="#66ffcc"/>
<rect x="381.28" y="721" width="8.68" height="2" fill="#66ffcc"/>
<rect x="389.96" y="721" width="8.68" height="2" fill="#33ffff"/>
<rect x="199" y="723" width="8.68" height="2" fill="#66ffcc"/>
<rect x="212.02" y="723" width="4.34" height="2" fill="#66ffcc"/>
<rect x="220.7" y="723" width="2.17" height="2" fill="#66ffcc"/>
<rect x="229.38" y="723" width="4.34" height="2" fill="#33ffff"/>
<rect x="233.72" y="723" width="2.17" height="2" fill="#66ffcc"/>
<rect x="235.89" y="723" width="2.17" height="2" fill="#33ffff"/>
<rect x="240.23" y="723" width="15.19" height="2" fill="#66ffcc"/>
<rect x="257.59" y="723" width="2.17" height="2" fill="#66ffcc"/>
<rect x="264.1" y="723" width="8.68" height="2" fill="#66ffcc"/>
<rect x="272.78" y="723" width="6.51" height="2" fill="#33ffff"/>
<rect x="283.63" y="723" width="8.68" height="2" fill="#66ffcc"/>
<rect x="292.31" y="723" width="8.68" height="2" fill="#33ffff"/>
<rect x="307.5" y="723" width="6.51" height="2" fill="#66ffcc"/>
<rect x="316.18" y="723" width="43.4" height="2" fill="#66ffcc"/>
<rect x="359.58" y="723" width="4.34" height="2" fill="#33ffff"/>
<rect x="368.26" y="723" width="10.85" height="2" fill="#66ffcc"/>
<rect x="383.45" y="723" width="2.17" height="2" fill="#33ffff"/>
<rect x="385.62" y="723" width="4.34" height="2" fill="#66ffcc"/>
<rect x="389.96" y="723" width="8.68" height="2" fill="#33ffff"/>
<rect x="199" y="725" width="8.68" height="2" fill="#66ffcc"/>
<rect x="212.02" y="725" width="19.53" height="2" fill="#66ffcc"/>
<rect x="235.89" y="725" width="4.34" height="2" fill="#66ffcc"/>
<rect x="244.57" y="725" width="6.51" height="2" fill="#66ffcc"/>
<rect x="253.25" y="725" width="4.34" height="2" fill="#66ffcc"/>
<rect x="259.76" y="725" width="13.02" height="2" fill="#66ffcc"/>
<rect x="272.78" y="725" width="8.68" height="2" fill="#33ffff"/>
<rect x="283.63" y="725" width="17.36" height="2" fill="#66ffcc"/>
<rect x="307.5" y="725" width="6.51" height="2" fill="#66ffcc"/>
<rect x="316.18" y="725" width="13.02" height="2" fill="#66ffcc"/>
<rect x="331.37" y="725" width="2.17" height="2" fill="#66ffcc"/>
<rect x="335.71" y="725" width="19.53" height="2" fill="#66ffcc"/>
<rect x="355.24" y="725" width="8.68" height="2" fill="#33ffff"/>
<rect x="368.26" y="725" width="13.02" height="2" fill="#66ffcc"/>
<rect x="383.45" y="725" width="10.85" height="2" fill="#33ffff"/>
<rect x="394.3" y="725" width="4.34" height="2" fill="#66ffcc"/>
<rect x="199" y="727" width="2.17" height="2" fill="#33ffff"/>
<rect x="201.17" y="727" width="2.17" height="2" fill="#66ffcc"/>
<rect x="205.51" y="727" width="67.27" height="2" fill="#66ffcc"/>
<rect x="272.78" y="727" width="6.51" height="2" fill="#33ffff"/>
<rect x="283.63" y="727" width="15.19" height="2" fill="#66ffcc"/>
<rect x="303.16" y="727" width="4.34" height="2" fill="#66ffcc"/>
<rect x="318.35" y="727" width="8.68" height="2" fill="#66ffcc"/>
<rect x="329.2" y="727" width="28.21" height="2" fill="#66ffcc"/>
<rect x="357.41" y="727" width="8.68" height="2" fill="#33ffff"/>
<rect x="366.09" y="727" width="13.02" height="2" fill="#66ffcc"/>
<rect x="379.11" y="727" width="13.02" height="2" fill="#33ffff"/>
<rect x="392.13" y="727" width="6.51" height="2" fill="#66ffcc"/>
<rect x="199" y="729" width="2.17" height="2" fill="#66ffcc"/>
<rect x="205.51" y="729" width="32.55" height="2" fill="#66ffcc"/>
<rect x="240.23" y="729" width="19.53" height="2" fill="#66ffcc"/>
<rect x="264.1" y="729" width="8.68" height="2" fill="#66ffcc"/>
<rect x="272.78" y="729" width="6.51" height="2" fill="#33ffff"/>
<rect x="283.63" y="729" width="10.85" height="2" fill="#66ffcc"/>
<rect x="296.65" y="729" width="2.17" height="2" fill="#66ffcc"/>
<rect x="300.99" y="729" width="6.51" height="2" fill="#66ffcc"/>
<rect x="314.01" y="729" width="2.17" height="2" fill="#66ffcc"/>
<rect x="331.37" y="729" width="17.36" height="2" fill="#66ffcc"/>
<rect x="348.73" y="729" width="17.36" height="2" fill="#33ffff"/>
<rect x="366.09" y="729" width="13.02" height="2" fill="#66ffcc"/>
<rect x="379.11" y="729" width="10.85" height="2" fill="#33ffff"/>
<rect x="389.96" y="729" width="8.68" height="2" fill="#66ffcc"/>
<rect x="199" y="731" width="54.25" height="2" fill="#66ffcc"/>
<rect x="261.93" y="731" width="19.53" height="2" fill="#33ffff"/>
<rect x="281.46" y="731" width="13.02" height="2" fill="#66ffcc"/>
<rect x="294.48" y="731" width="8.68" height="2" fill="#33ffff"/>
<rect x="307.5" y="731" width="2.17" height="2" fill="#33ffff"/>
<rect x="309.67" y="731" width="8.68" height="2" fill="#66ffcc"/>
<rect x="324.86" y="731" width="15.19" height="2" fill="#66ffcc"/>
<rect x="340.05" y="731" width="2.17" height="2" fill="#33ffff"/>
<rect x="342.22" y="731" width="2.17" height="2" fill="#66ffcc"/>
<rect x="344.39" y="731" width="6.51" height="2" fill="#33ffff"/>
<rect x="355.24" y="731" width="19.53" height="2" fill="#33ffff"/>
<rect x="379.11" y="731" width="6.51" height="2" fill="#66ffcc"/>
<rect x="385.62" y="731" width="10.85" height="2" fill="#33ffff"/>
<rect x="199" y="733" width="56.42" height="2" fill="#66ffcc"/>
<rect x="259.76" y="733" width="2.17" height="2" fill="#33ffff"/>
<rect x="261.93" y="733" width="2.17" height="2" fill="#66ffcc"/>
<rect x="268.44" y="733" width="13.02" height="2" fill="#33ffff"/>
<rect x="281.46" y="733" width="10.85" height="2" fill="#66ffcc"/>
<rect x="292.31" y="733" width="21.7" height="2" fill="#33ffff"/>
<rect x="314.01" y="733" width="23.87" height="2" fill="#66ffcc"/>
<rect x="337.88" y="733" width="10.85" height="2" fill="#33ffff"/>
<rect x="357.41" y="733" width="17.36" height="2" fill="#33ffff"/>
<rect x="376.94" y="733" width="4.34" height="2" fill="#33ffff"/>
<rect x="381.28" y="733" width="8.68" height="2" fill="#66ffcc"/>
<rect x="389.96" y="733" width="8.68" height="2" fill="#33ffff"/>
<rect x="199" y="735" width="19.53" height="2" fill="#66ffcc"/>
<rect x="227.21" y="735" width="28.21" height="2" fill="#66ffcc"/>
<rect x="257.59" y="735" width="15.19" height="2" fill="#66ffcc"/>
<rect x="272.78" y="735" width="2.17" height="2" fill="#33ffff"/>
<rect x="274.95" y="735" width="8.68" height="2" fill="#66ffcc"/>
<rect x="287.97" y="735" width="4.34" height="2" fill="#66ffcc"/>
<rect x="292.31" y="735" width="2.17" height="2" fill="#33ffff"/>
<rect x="305.33" y="735" width="10.85" height="2" fill="#33ffff"/>
<rect x="316.18" y="735" width="23.87" height="2" fill="#66ffcc"/>
<rect x="340.05" y="735" width="6.51" height="2" fill="#33ffff"/>
<rect x="361.75" y="735" width="8.68" height="2" fill="#33ffff"/>
<rect x="374.77" y="735" width="4.34" height="2" fill="#33ffff"/>
<rect x="379.11" y="735" width="10.85" height="2" fill="#66ffcc"/>
<rect x="389.96" y="735" width="2.17" height="2" fill="#33ffff"/>
<rect x="392.13" y="735" width="2.17" height="2" fill="#66ffcc"/>
<rect x="199" y="737" width="15.19" height="2" fill="#66ffcc"/>
<rect x="227.21" y="737" width="10.85" height="2" fill="#33ffff"/>
<rect x="240.23" y="737" width="26.04" height="2" fill="#66ffcc"/>
<rect x="268.44" y="737" width="10.85" height="2" fill="#66ffcc"/>
<rect x="283.63" y="737" width="8.68" height="2" fill="#66ffcc"/>
<rect x="292.31" y="737" width="6.51" height="2" fill="#33ffff"/>
<rect x="303.16" y="737" width="2.17" height="2" fill="#33ffff"/>
<rect x="305.33" y="737" width="2.17" height="2" fill="#66ffcc"/>
<rect x="307.5" y="737" width="2.17" height="2" fill="#33ffff"/>
<rect x="309.67" y="737" width="2.17" height="2" fill="#66ffcc"/>
<rect x="311.84" y="737" width="10.85" height="2" fill="#33ffff"/>
<rect x="322.69" y="737" width="4.34" height="2" fill="#66ffcc"/>
<rect x="329.2" y="737" width="15.19" height="2" fill="#66ffcc"/>
<rect x="344.39" y="737" width="4.34" height="2" fill="#33ffff"/>
<rect x="348.73" y="737" width="6.51" height="2" fill="#66ffcc"/>
<rect x="355.24" y="737" width="10.85" height="2" fill="#33ffff"/>
<rect x="366.09" y="737" width="17.36" height="2" fill="#66ffcc"/>
<rect x="383.45" y="737" width="2.17" height="2" fill="#33ffff"/>
<rect x="385.62" y="737" width="6.51" height="2" fill="#66ffcc"/>
<rect x="199" y="739" width="4.34" height="2" fill="#33ffff"/>
<rect x="203.34" y="739" width="13.02" height="2" fill="#66ffcc"/>
<rect x="227.21" y="739" width="10.85" height="2" fill="#33ffff"/>
<rect x="238.06" y="739" width="2.17" height="2" fill="#66ffcc"/>
<rect x="240.23" y="739" width="2.17" height="2" fill="#33ffff"/>
<rect x="242.4" y="739" width="36.89" height="2" fill="#66ffcc"/>
<rect x="283.63" y="739" width="10.85" height="2" fill="#66ffcc"/>
<rect x="294.48" y="739" width="2.17" height="2" fill="#33ffff"/>
<rect x="296.65" y="739" width="2.17" height="2" fill="#66ffcc"/>
<rect x="303.16" y="739" width="10.85" height="2" fill="#66ffcc"/>
<rect x="314.01" y="739" width="6.51" height="2" fill="#33ffff"/>
<rect x="320.52" y="739" width="36.89" height="2" fill="#66ffcc"/>
<rect x="357.41" y="739" width="10.85" height="2" fill="#33ffff"/>
<rect x="368.26" y="739" width="15.19" height="2" fill="#66ffcc"/>
<rect x="383.45" y="739" width="2.17" height="2" fill="#33ffff"/>
<rect x="385.62" y="739" width="10.85" height="2" fill="#66ffcc"/>
<rect x="199" y="741" width="4.34" height="2" fill="#33ffff"/>
<rect x="203.34" y="741" width="15.19" height="2" fill="#66ffcc"/>
<rect x="220.7" y="741" width="6.51" height="2" fill="#66ffcc"/>
<rect x="227.21" y="741" width="6.51" height="2" fill="#33ffff"/>
<rect x="233.72" y="741" width="2.17" height="2" fill="#66ffcc"/>
<rect x="235.89" y="741" width="2.17" height="2" fill="#33ffff"/>
<rect x="238.06" y="741" width="8.68" height="2" fill="#66ffcc"/>
<rect x="253.25" y="741" width="6.51" height="2" fill="#66ffcc"/>
<rect x="264.1" y="741" width="45.57" height="2" fill="#66ffcc"/>
<rect x="309.67" y="741" width="2.17" height="2" fill="#33ffff"/>
<rect x="311.84" y="741" width="4.34" height="2" fill="#66ffcc"/>
<rect x="327.03" y="741" width="19.53" height="2" fill="#66ffcc"/>
<rect x="348.73" y="741" width="2.17" height="2" fill="#66ffcc"/>
<rect x="353.07" y="741" width="13.02" height="2" fill="#33ffff"/>
<rect x="366.09" y="741" width="32.55" height="2" fill="#66ffcc"/>
<rect x="199" y="743" width="6.51" height="2" fill="#66ffcc"/>
<rect x="205.51" y="743" width="8.68" height="2" fill="#33ffff"/>
<rect x="214.19" y="743" width="2.17" height="2" fill="#66ffcc"/>
<rect x="216.36" y="743" width="6.51" height="2" fill="#33ffff"/>
<rect x="222.87" y="743" width="19.53" height="2" fill="#66ffcc"/>
<rect x="246.74" y="743" width="28.21" height="2" fill="#66ffcc"/>
<rect x="274.95" y="743" width="2.17" height="2" fill="#33ffff"/>
<rect x="277.12" y="743" width="2.17" height="2" fill="#66ffcc"/>
<rect x="281.46" y="743" width="8.68" height="2" fill="#66ffcc"/>
<rect x="296.65" y="743" width="8.68" height="2" fill="#66ffcc"/>
<rect x="305.33" y="743" width="6.51" height="2" fill="#33ffff"/>
<rect x="314.01" y="743" width="2.17" height="2" fill="#33ffff"/>
<rect x="316.18" y="743" width="2.17" height="2" fill="#66ffcc"/>
<rect x="320.52" y="743" width="30.38" height="2" fill="#66ffcc"/>
<rect x="355.24" y="743" width="6.51" height="2" fill="#66ffcc"/>
<rect x="363.92" y="743" width="2.17" height="2" fill="#33ffff"/>
<rect x="366.09" y="743" width="10.85" height="2" fill="#66ffcc"/>
<rect x="379.11" y="743" width="2.17" height="2" fill="#66ffcc"/>
<rect x="383.45" y="743" width="15.19" height="2" fill="#66ffcc"/>
<rect x="199" y="745" width="4.34" height="2" fill="#66ffcc"/>
<rect x="207.68" y="745" width="19.53" height="2" fill="#33ffff"/>
<rect x="227.21" y="745" width="13.02" height="2" fill="#66ffcc"/>
<rect x="242.4" y="745" width="2.17" height="2" fill="#33ffff"/>
<rect x="246.74" y="745" width="8.68" height="2" fill="#33ffff"/>
<rect x="257.59" y="745" width="21.7" height="2" fill="#33ffff"/>
<rect x="281.46" y="745" width="8.68" height="2" fill="#33ffff"/>
<rect x="290.14" y="745" width="2.17" height="2" fill="#66ffcc"/>
<rect x="296.65" y="745" width="4.34" height="2" fill="#66ffcc"/>
<rect x="300.99" y="745" width="8.68" height="2" fill="#33ffff"/>
<rect x="311.84" y="745" width="19.53" height="2" fill="#33ffff"/>
<rect x="331.37" y="745" width="2.17" height="2" fill="#66ffcc"/>
<rect x="333.54" y="745" width="2.17" height="2" fill="#33ffff"/>
<rect x="335.71" y="745" width="10.85" height="2" fill="#66ffcc"/>
<rect x="346.56" y="745" width="4.34" height="2" fill="#33ffff"/>
<rect x="353.07" y="745" width="6.51" height="2" fill="#33ffff"/>
<rect x="366.09" y="745" width="8.68" height="2" fill="#33ffff"/>
<rect x="383.45" y="745" width="15.19" height="2" fill="#66ffcc"/>
<rect x="199" y="747" width="2.17" height="2" fill="#66ffcc"/>
<rect x="201.17" y="747" width="21.7" height="2" fill="#33ffff"/>
<rect x="227.21" y="747" width="6.51" height="2" fill="#66ffcc"/>
<rect x="233.72" y="747" width="21.7" height="2" fill="#33ffff"/>
<rect x="257.59" y="747" width="8.68" height="2" fill="#33ffff"/>
<rect x="268.44" y="747" width="26.04" height="2" fill="#33ffff"/>
<rect x="296.65" y="747" width="10.85" height="2" fill="#33ffff"/>
<rect x="309.67" y="747" width="8.68" height="2" fill="#33ffff"/>
<rect x="324.86" y="747" width="10.85" height="2" fill="#33ffff"/>
<rect x="335.71" y="747" width="10.85" height="2" fill="#66ffcc"/>
<rect x="348.73" y="747" width="28.21" height="2" fill="#33ffff"/>
<rect x="379.11" y="747" width="2.17" height="2" fill="#33ffff"/>
<rect x="381.28" y="747" width="2.17" height="2" fill="#66ffcc"/>
<rect x="383.45" y="747" width="2.17" height="2" fill="#33ffff"/>
<rect x="385.62" y="747" width="2.17" height="2" fill="#66ffcc"/>
<rect x="387.79" y="747" width="2.17" height="2" fill="#33ffff"/>
<rect x="389.96" y="747" width="4.34" height="2" fill="#66ffcc"/>
<rect x="199" y="749" width="8.68" height="2" fill="#33ffff"/>
<rect x="207.68" y="749" width="15.19" height="2" fill="#66ffcc"/>
<rect x="225.04" y="749" width="2.17" height="2" fill="#66ffcc"/>
<rect x="227.21" y="749" width="34.72" height="2" fill="#33ffff"/>
<rect x="261.93" y="749" width="2.17" height="2" fill="#66ffcc"/>
<rect x="268.44" y="749" width="4.34" height="2" fill="#66ffcc"/>
<rect x="272.78" y="749" width="2.17" height="2" fill="#33ffff"/>
<rect x="274.95" y="749" width="4.34" height="2" fill="#66ffcc"/>
<rect x="279.29" y="749" width="15.19" height="2" fill="#33ffff"/>
<rect x="296.65" y="749" width="39.06" height="2" fill="#33ffff"/>
<rect x="335.71" y="749" width="8.68" height="2" fill="#66ffcc"/>
<rect x="344.39" y="749" width="36.89" height="2" fill="#33ffff"/>
<rect x="381.28" y="749" width="10.85" height="2" fill="#66ffcc"/>
<rect x="392.13" y="749" width="2.17" height="2" fill="#33ffff"/>
<rect x="396.47" y="749" width="2.17" height="2" fill="#33ffff"/>
<rect x="199" y="751" width="8.68" height="2" fill="#33ffff"/>
<rect x="207.68" y="751" width="19.53" height="2" fill="#66ffcc"/>
<rect x="227.21" y="751" width="34.72" height="2" fill="#33ffff"/>
<rect x="261.93" y="751" width="2.17" height="2" fill="#66ffcc"/>
<rect x="272.78" y="751" width="8.68" height="2" fill="#66ffcc"/>
<rect x="281.46" y="751" width="6.51" height="2" fill="#33ffff"/>
<rect x="292.31" y="751" width="13.02" height="2" fill="#33ffff"/>
<rect x="305.33" y="751" width="6.51" height="2" fill="#66ffcc"/>
<rect x="311.84" y="751" width="23.87" height="2" fill="#33ffff"/>
<rect x="335.71" y="751" width="10.85" height="2" fill="#66ffcc"/>
<rect x="346.56" y="751" width="4.34" height="2" fill="#33ffff"/>
<rect x="357.41" y="751" width="4.34" height="2" fill="#33ffff"/>
<rect x="363.92" y="751" width="17.36" height="2" fill="#33ffff"/>
<rect x="381.28" y="751" width="2.17" height="2" fill="#66ffcc"/>
<rect x="396.47" y="751" width="2.17" height="2" fill="#33ffff"/>
<rect x="199" y="753" width="8.68" height="2" fill="#33ffff"/>
<rect x="207.68" y="753" width="10.85" height="2" fill="#66ffcc"/>
<rect x="220.7" y="753" width="2.17" height="2" fill="#66ffcc"/>
<rect x="222.87" y="753" width="8.68" height="2" fill="#33ffff"/>
<rect x="235.89" y="753" width="6.51" height="2" fill="#33ffff"/>
<rect x="244.57" y="753" width="17.36" height="2" fill="#33ffff"/>
<rect x="261.93" y="753" width="8.68" height="2" fill="#66ffcc"/>
<rect x="272.78" y="753" width="10.85" height="2" fill="#66ffcc"/>
<rect x="283.63" y="753" width="21.7" height="2" fill="#33ffff"/>
<rect x="305.33" y="753" width="6.51" height="2" fill="#66ffcc"/>
<rect x="311.84" y="753" width="17.36" height="2" fill="#33ffff"/>
<rect x="331.37" y="753" width="2.17" height="2" fill="#33ffff"/>
<rect x="337.88" y="753" width="6.51" height="2" fill="#66ffcc"/>
<rect x="344.39" y="753" width="39.06" height="2" fill="#33ffff"/>
<rect x="383.45" y="753" width="2.17" height="2" fill="#66ffcc"/>
<rect x="387.79" y="753" width="2.17" height="2" fill="#66ffcc"/>
<rect x="389.96" y="753" width="8.68" height="2" fill="#33ffff"/>
<rect x="199" y="755" width="32.55" height="2" fill="#33ffff"/>
<rect x="233.72" y="755" width="28.21" height="2" fill="#33ffff"/>
<rect x="261.93" y="755" width="23.87" height="2" fill="#66ffcc"/>
<rect x="285.8" y="755" width="19.53" height="2" fill="#33ffff"/>
<rect x="305.33" y="755" width="8.68" height="2" fill="#66ffcc"/>
<rect x="314.01" y="755" width="15.19" height="2" fill="#33ffff"/>
<rect x="335.71" y="755" width="62.93" height="2" fill="#33ffff"/>
<rect x="199" y="757" width="4.34" height="2" fill="#33ffff"/>
<rect x="205.51" y="757" width="6.51" height="2" fill="#33ffff"/>
<rect x="216.36" y="757" width="15.19" height="2" fill="#33ffff"/>
<rect x="235.89" y="757" width="15.19" height="2" fill="#33ffff"/>
<rect x="255.42" y="757" width="4.34" height="2" fill="#33ffff"/>
<rect x="264.1" y="757" width="19.53" height="2" fill="#66ffcc"/>
<rect x="283.63" y="757" width="2.17" height="2" fill="#33ffff"/>
<rect x="285.8" y="757" width="4.34" height="2" fill="#66ffcc"/>
<rect x="290.14" y="757" width="13.02" height="2" fill="#33ffff"/>
<rect x="303.16" y="757" width="17.36" height="2" fill="#66ffcc"/>
<rect x="320.52" y="757" width="4.34" height="2" fill="#33ffff"/>
<rect x="327.03" y="757" width="4.34" height="2" fill="#33ffff"/>
<rect x="335.71" y="757" width="26.04" height="2" fill="#33ffff"/>
<rect x="368.26" y="757" width="8.68" height="2" fill="#66ffcc"/>
<rect x="376.94" y="757" width="13.02" height="2" fill="#33ffff"/>
<rect x="392.13" y="757" width="6.51" height="2" fill="#33ffff"/>
<rect x="199" y="759" width="34.72" height="2" fill="#33ffff"/>
<rect x="235.89" y="759" width="23.87" height="2" fill="#33ffff"/>
<rect x="264.1" y="759" width="10.85" height="2" fill="#66ffcc"/>
<rect x="274.95" y="759" width="2.17" height="2" fill="#33ffff"/>
<rect x="277.12" y="759" width="2.17" height="2" fill="#66ffcc"/>
<rect x="279.29" y="759" width="4.34" height="2" fill="#33ffff"/>
<rect x="283.63" y="759" width="2.17" height="2" fill="#66ffcc"/>
<rect x="285.8" y="759" width="13.02" height="2" fill="#33ffff"/>
<rect x="303.16" y="759" width="2.17" height="2" fill="#33ffff"/>
<rect x="305.33" y="759" width="6.51" height="2" fill="#66ffcc"/>
<rect x="311.84" y="759" width="2.17" height="2" fill="#33ffff"/>
<rect x="314.01" y="759" width="8.68" height="2" fill="#66ffcc"/>
<rect x="322.69" y="759" width="26.04" height="2" fill="#33ffff"/>
<rect x="348.73" y="759" width="6.51" height="2" fill="#66ffcc"/>
<rect x="355.24" y="759" width="17.36" height="2" fill="#33ffff"/>
<rect x="372.6" y="759" width="2.17" height="2" fill="#66ffcc"/>
<rect x="374.77" y="759" width="23.87" height="2" fill="#33ffff"/>
<rect x="201.17" y="761" width="10.85" height="2" fill="#33ffff"/>
<rect x="212.02" y="761" width="4.34" height="2" fill="#66ffcc"/>
<rect x="216.36" y="761" width="2.17" height="2" fill="#33ffff"/>
<rect x="218.53" y="761" width="4.34" height="2" fill="#66ffcc"/>
<rect x="231.55" y="761" width="30.38" height="2" fill="#33ffff"/>
<rect x="261.93" y="761" width="8.68" height="2" fill="#66ffcc"/>
<rect x="270.61" y="761" width="4.34" height="2" fill="#33ffff"/>
<rect x="279.29" y="761" width="21.7" height="2" fill="#33ffff"/>
<rect x="305.33" y="761" width="10.85" height="2" fill="#33ffff"/>
<rect x="316.18" y="761" width="6.51" height="2" fill="#66ffcc"/>
<rect x="322.69" y="761" width="26.04" height="2" fill="#33ffff"/>
<rect x="348.73" y="761" width="6.51" height="2" fill="#66ffcc"/>
<rect x="355.24" y="761" width="28.21" height="2" fill="#33ffff"/>
<rect x="383.45" y="761" width="2.17" height="2" fill="#66ffcc"/>
<rect x="385.62" y="761" width="13.02" height="2" fill="#33ffff"/>
<rect x="212.02" y="763" width="2.17" height="2" fill="#66ffcc"/>
<rect x="218.53" y="763" width="2.17" height="2" fill="#66ffcc"/>
<rect x="225.04" y="763" width="34.72" height="2" fill="#33ffff"/>
<rect x="264.1" y="763" width="6.51" height="2" fill="#66ffcc"/>
<rect x="279.29" y="763" width="32.55" height="2" fill="#33ffff"/>
<rect x="316.18" y="763" width="6.51" height="2" fill="#66ffcc"/>
<rect x="322.69" y="763" width="4.34" height="2" fill="#33ffff"/>
<rect x="329.2" y="763" width="17.36" height="2" fill="#33ffff"/>
<rect x="346.56" y="763" width="4.34" height="2" fill="#66ffcc"/>
<rect x="353.07" y="763" width="2.17" height="2" fill="#66ffcc"/>
<rect x="355.24" y="763" width="8.68" height="2" fill="#33ffff"/>
<rect x="376.94" y="763" width="2.17" height="2" fill="#33ffff"/>
<rect x="379.11" y="763" width="8.68" height="2" fill="#66ffcc"/>
<rect x="387.79" y="763" width="10.85" height="2" fill="#33ffff"/>
<rect x="199" y="765" width="8.68" height="2" fill="#33ffff"/>
<rect x="207.68" y="765" width="4.34" height="2" fill="#66ffcc"/>
<rect x="216.36" y="765" width="6.51" height="2" fill="#66ffcc"/>
<rect x="225.04" y="765" width="2.17" height="2" fill="#66ffcc"/>
<rect x="229.38" y="765" width="2.17" height="2" fill="#66ffcc"/>
<rect x="231.55" y="765" width="26.04" height="2" fill="#33ffff"/>
<rect x="257.59" y="765" width="2.17" height="2" fill="#66ffcc"/>
<rect x="261.93" y="765" width="8.68" height="2" fill="#66ffcc"/>
<rect x="270.61" y="765" width="4.34" height="2" fill="#33ffff"/>
<rect x="277.12" y="765" width="39.06" height="2" fill="#33ffff"/>
<rect x="316.18" y="765" width="6.51" height="2" fill="#66ffcc"/>
<rect x="322.69" y="765" width="13.02" height="2" fill="#33ffff"/>
<rect x="340.05" y="765" width="34.72" height="2" fill="#33ffff"/>
<rect x="379.11" y="765" width="8.68" height="2" fill="#66ffcc"/>
<rect x="387.79" y="765" width="10.85" height="2" fill="#33ffff"/>
<rect x="199" y="767" width="13.02" height="2" fill="#33ffff"/>
<rect x="216.36" y="767" width="6.51" height="2" fill="#33ffff"/>
<rect x="222.87" y="767" width="2.17" height="2" fill="#66ffcc"/>
<rect x="227.21" y="767" width="10.85" height="2" fill="#66ffcc"/>
<rect x="238.06" y="767" width="21.7" height="2" fill="#33ffff"/>
<rect x="264.1" y="767" width="4.34" height="2" fill="#66ffcc"/>
<rect x="268.44" y="767" width="6.51" height="2" fill="#33ffff"/>
<rect x="277.12" y="767" width="41.23" height="2" fill="#33ffff"/>
<rect x="320.52" y="767" width="4.34" height="2" fill="#33ffff"/>
<rect x="324.86" y="767" width="2.17" height="2" fill="#66ffcc"/>
<rect x="327.03" y="767" width="8.68" height="2" fill="#33ffff"/>
<rect x="342.22" y="767" width="30.38" height="2" fill="#33ffff"/>
<rect x="372.6" y="767" width="2.17" height="2" fill="#66ffcc"/>
<rect x="379.11" y="767" width="2.17" height="2" fill="#66ffcc"/>
<rect x="381.28" y="767" width="2.17" height="2" fill="#33ffff"/>
<rect x="383.45" y="767" width="2.17" height="2" fill="#66ffcc"/>
<rect x="385.62" y="767" width="4.34" height="2" fill="#33ffff"/>
<rect x="394.3" y="767" width="4.34" height="2" fill="#33ffff"/>
<rect x="199" y="769" width="10.85" height="2" fill="#33ffff"/>
<rect x="212.02" y="769" width="13.02" height="2" fill="#33ffff"/>
<rect x="225.04" y="769" width="13.02" height="2" fill="#66ffcc"/>
<rect x="238.06" y="769" width="13.02" height="2" fill="#33ffff"/>
<rect x="259.76" y="769" width="34.72" height="2" fill="#33ffff"/>
<rect x="296.65" y="769" width="10.85" height="2" fill="#33ffff"/>
<rect x="309.67" y="769" width="8.68" height="2" fill="#33ffff"/>
<rect x="320.52" y="769" width="4.34" height="2" fill="#33ffff"/>
<rect x="324.86" y="769" width="8.68" height="2" fill="#66ffcc"/>
<rect x="333.54" y="769" width="34.72" height="2" fill="#33ffff"/>
<rect x="368.26" y="769" width="6.51" height="2" fill="#66ffcc"/>
<rect x="379.11" y="769" width="6.51" height="2" fill="#66ffcc"/>
<rect x="385.62" y="769" width="13.02" height="2" fill="#33ffff"/>
<rect x="199" y="771" width="8.68" height="2" fill="#33ffff"/>
<rect x="212.02" y="771" width="8.68" height="2" fill="#33ffff"/>
<rect x="220.7" y="771" width="17.36" height="2" fill="#66ffcc"/>
<rect x="238.06" y="771" width="8.68" height="2" fill="#33ffff"/>
<rect x="248.91" y="771" width="2.17" height="2" fill="#33ffff"/>
<rect x="251.08" y="771" width="4.34" height="2" fill="#66ffcc"/>
<rect x="259.76" y="771" width="2.17" height="2" fill="#33ffff"/>
<rect x="261.93" y="771" width="2.17" height="2" fill="#66ffcc"/>
<rect x="264.1" y="771" width="30.38" height="2" fill="#33ffff"/>
<rect x="296.65" y="771" width="6.51" height="2" fill="#33ffff"/>
<rect x="307.5" y="771" width="10.85" height="2" fill="#33ffff"/>
<rect x="322.69" y="771" width="4.34" height="2" fill="#33ffff"/>
<rect x="327.03" y="771" width="6.51" height="2" fill="#66ffcc"/>
<rect x="333.54" y="771" width="39.06" height="2" fill="#33ffff"/>
<rect x="372.6" y="771" width="2.17" height="2" fill="#66ffcc"/>
<rect x="374.77" y="771" width="4.34" height="2" fill="#33ffff"/>
<rect x="379.11" y="771" width="2.17" height="2" fill="#66ffcc"/>
<rect x="381.28" y="771" width="2.17" height="2" fill="#33ffff"/>
<rect x="383.45" y="771" width="2.17" height="2" fill="#66ffcc"/>
<rect x="385.62" y="771" width="13.02" height="2" fill="#33ffff"/>
<rect x="329.5" y="647" width="4.34" height="2" fill="#33ffff"/>
<rect x="333.84" y="647" width="8.68" height="2" fill="#66ffcc"/>
<rect x="370.73" y="647" width="10.85" height="2" fill="#66ffcc"/>
<rect x="385.92" y="647" width="13.02" height="2" fill="#66ffcc"/>
<rect x="329.5" y="649" width="8.68" height="2" fill="#66ffcc"/>
<rect x="351.2" y="649" width="6.51" height="2" fill="#66ffcc"/>
<rect x="362.05" y="649" width="23.87" height="2" fill="#66ffcc"/>
<rect x="390.26" y="649" width="4.34" height="2" fill="#66ffcc"/>
<rect x="331.67" y="651" width="4.34" height="2" fill="#66ffcc"/>
<rect x="344.69" y="651" width="2.17" height="2" fill="#66ffcc"/>
<rect x="351.2" y="651" width="6.51" height="2" fill="#66ffcc"/>
<rect x="362.05" y="651" width="8.68" height="2" fill="#66ffcc"/>
<rect x="375.07" y="651" width="6.51" height="2" fill="#33ffff"/>
<rect x="381.58" y="651" width="2.17" height="2" fill="#66ffcc"/>
<rect x="383.75" y="651" width="2.17" height="2" fill="#33ffff"/>
<rect x="390.26" y="651" width="4.34" height="2" fill="#66ffcc"/>
<rect x="338.18" y="653" width="4.34" height="2" fill="#66ffcc"/>
<rect x="353.37" y="653" width="13.02" height="2" fill="#66ffcc"/>
<rect x="375.07" y="653" width="6.51" height="2" fill="#33ffff"/>
<rect x="383.75" y="653" width="2.17" height="2" fill="#66ffcc"/>
<rect x="336.01" y="655" width="6.51" height="2" fill="#66ffcc"/>
<rect x="344.69" y="655" width="4.34" height="2" fill="#66ffcc"/>
<rect x="351.2" y="655" width="6.51" height="2" fill="#66ffcc"/>
<rect x="359.88" y="655" width="8.68" height="2" fill="#66ffcc"/>
<rect x="370.73" y="655" width="8.68" height="2" fill="#33ffff"/>
<rect x="383.75" y="655" width="4.34" height="2" fill="#33ffff"/>
<rect x="388.09" y="655" width="2.17" height="2" fill="#66ffcc"/>
<rect x="329.5" y="657" width="4.34" height="2" fill="#66ffcc"/>
<rect x="336.01" y="657" width="8.68" height="2" fill="#66ffcc"/>
<rect x="346.86" y="657" width="8.68" height="2" fill="#66ffcc"/>
<rect x="362.05" y="657" width="2.17" height="2" fill="#66ffcc"/>
<rect x="364.22" y="657" width="13.02" height="2" fill="#33ffff"/>
<rect x="385.92" y="657" width="4.34" height="2" fill="#33ffff"/>
<rect x="394.6" y="657" width="4.34" height="2" fill="#66ffcc"/>
<rect x="329.5" y="659" width="2.17" height="2" fill="#33ffff"/>
<rect x="340.35" y="659" width="2.17" height="2" fill="#33ffff"/>
<rect x="342.52" y="659" width="6.51" height="2" fill="#66ffcc"/>
<rect x="351.2" y="659" width="6.51" height="2" fill="#66ffcc"/>
<rect x="357.71" y="659" width="15.19" height="2" fill="#33ffff"/>
<rect x="372.9" y="659" width="2.17" height="2" fill="#66ffcc"/>
<rect x="375.07" y="659" width="2.17" height="2" fill="#33ffff"/>
<rect x="377.24" y="659" width="2.17" height="2" fill="#66ffcc"/>
<rect x="385.92" y="659" width="2.17" height="2" fill="#33ffff"/>
<rect x="388.09" y="659" width="2.17" height="2" fill="#66ffcc"/>
<rect x="390.26" y="659" width="8.68" height="2" fill="#33ffff"/>
<rect x="339" y="753" width="7.5" height="17.6" fill="#33ccff"/>
<rect x="341" y="758" width="3" height="8" fill="#3399ff"/>
<rect x="345" y="752" width="10" height="1.5" fill="#33ccff"/>
<rect x="220.4" y="679" width="13.6" height="5" fill="#ffffff"/>
<rect x="223.8" y="684" width="5.9" height="18.6" fill="#ffffff"/>
<rect x="247.5" y="671" width="14.5" height="6" fill="#ffffff"/>
<rect x="201.8" y="677" width="4.2" height="6" fill="#ffffff"/>
<rect x="211" y="716" width="9" height="4" fill="#ffffff"/>
<rect x="222" y="719" width="28" height="4" fill="#ffffff"/>
<rect x="228" y="728" width="8" height="10" fill="#ffffff"/>
<rect x="300" y="677" width="20" height="7" fill="#ffffff"/>
<rect x="353.5" y="690" width="10.5" height="10" fill="#ffffff"/>
<rect x="330.5" y="719" width="19.5" height="9" fill="#ffffff"/>
<rect x="355" y="740" width="13" height="7" fill="#ffffff"/>
<rect x="362" y="756" width="10" height="14" fill="#ffffff"/>
<rect x="88" y="73" width="315" height="2" fill="#000"/>
<rect x="88" y="261" width="315" height="2" fill="#000"/>
<rect x="88" y="73" width="2" height="190" fill="#000"/>
<rect x="401" y="73" width="2" height="190" fill="#000"/>
<rect x="84" y="261" width="4" height="2" fill="#000"/>
<rect x="403" y="261" width="4" height="2" fill="#000"/>
<rect x="84" y="240" width="4" height="2" fill="#000"/>
<rect x="403" y="240" width="4" height="2" fill="#000"/>
<rect x="84" y="220" width="4" height="2" fill="#000"/>
<rect x="403" y="220" width="4" height="2" fill="#000"/>
<rect x="84" y="199" width="4" height="2" fill="#000"/>
<rect x="403" y="199" width="4" height="2" fill="#000"/>
<rect x="80" y="178" width="8" height="2" fill="#000"/>
<rect x="403" y="178" width="8" height="2" fill="#000"/>
<rect x="84" y="157" width="4" height="2" fill="#000"/>
<rect x="403" y="157" width="4" height="2" fill="#000"/>
<rect x="84" y="136" width="4" height="2" fill="#000"/>
<rect x="403" y="136" width="4" height="2" fill="#000"/>
<rect x="84" y="115" width="4" height="2" fill="#000"/>
<rect x="403" y="115" width="4" height="2" fill="#000"/>
<rect x="84" y="94" width="4" height="2" fill="#000"/>
<rect x="403" y="94" width="4" height="2" fill="#000"/>
<rect x="80" y="73" width="8" height="2" fill="#000"/>
<rect x="403" y="73" width="8" height="2" fill="#000"/>
<rect x="88" y="65" width="2" height="8" fill="#000"/>
<rect x="88" y="263" width="2" height="8" fill="#000"/>
<rect x="113" y="69" width="2" height="4" fill="#000"/>
<rect x="113" y="263" width="2" height="4" fill="#000"/>
<rect x="139" y="65" width="2" height="8" fill="#000"/>
<rect x="139" y="263" width="2" height="8" fill="#000"/>
<rect x="166" y="69" width="2" height="4" fill="#000"/>
<rect x="166" y="263" width="2" height="4" fill="#000"/>
<rect x="192" y="65" width="2" height="8" fill="#000"/>
<rect x="192" y="263" width="2" height="8" fill="#000"/>
<rect x="218" y="69" width="2" height="4" fill="#000"/>
<rect x="218" y="263" width="2" height="4" fill="#000"/>
<rect x="244" y="65" width="2" height="8" fill="#000"/>
<rect x="244" y="263" width="2" height="8" fill="#000"/>
<rect x="270" y="69" width="2" height="4" fill="#000"/>
<rect x="270" y="263" width="2" height="4" fill="#000"/>
<rect x="296" y="65" width="2" height="8" fill="#000"/>
<rect x="296" y="263" width="2" height="8" fill="#000"/>
<rect x="323" y="69" width="2" height="4" fill="#000"/>
<rect x="323" y="263" width="2" height="4" fill="#000"/>
<rect x="349" y="65" width="2" height="8" fill="#000"/>
<rect x="349" y="263" width="2" height="8" fill="#000"/>
<rect x="375" y="69" width="2" height="4" fill="#000"/>
<rect x="375" y="263" width="2" height="4" fill="#000"/>
<rect x="401" y="65" width="2" height="8" fill="#000"/>
<rect x="401" y="263" width="2" height="8" fill="#000"/>
<rect x="88" y="289" width="149" height="2" fill="#000"/>
<rect x="253" y="289" width="150" height="2" fill="#000"/>
<rect x="88" y="286" width="2" height="8" fill="#000"/>
<rect x="401" y="286" width="2" height="8" fill="#000"/>
<rect x="90" y="289" width="3" height="2" fill="#0000ff"/>
<rect x="398" y="289" width="3" height="2" fill="#0000ff"/>
<rect x="423" y="111" width="24" height="152" fill="#000"/>
<rect x="425" y="113.00" width="20" height="9.25" fill="#ff3333"/>
<rect x="425" y="122.25" width="20" height="9.25" fill="#ff6633"/>
<rect x="425" y="131.50" width="20" height="9.25" fill="#ff9933"/>
<rect x="425" y="140.75" width="20" height="9.25" fill="#ffcc33"/>
<rect x="425" y="150.00" width="20" height="9.25" fill="#ffff33"/>
<rect x="425" y="159.25" width="20" height="9.25" fill="#ccff66"/>
<rect x="425" y="168.50" width="20" height="9.25" fill="#99ff99"/>
<rect x="425" y="177.75" width="20" height="9.25" fill="#66ffcc"/>
<rect x="425" y="187.00" width="20" height="9.25" fill="#33ffff"/>
<rect x="425" y="196.25" width="20" height="9.25" fill="#33ccff"/>
<rect x="425" y="205.50" width="20" height="9.25" fill="#3399ff"/>
<rect x="425" y="214.75" width="20" height="9.25" fill="#3366ff"/>
<rect x="425" y="224.00" width="20" height="9.25" fill="#3333ff"/>
<rect x="425" y="233.25" width="20" height="9.25" fill="#3333cc"/>
<rect x="425" y="242.50" width="20" height="9.25" fill="#333399"/>
<rect x="425" y="251.75" width="20" height="9.25" fill="#333366"/>
<rect x="423" y="186" width="24" height="2" fill="#000"/>
<rect x="502" y="73" width="64" height="2" fill="#000"/>
<rect x="502" y="261" width="64" height="2" fill="#000"/>
<rect x="502" y="73" width="2" height="190" fill="#000"/>
<rect x="564" y="73" width="2" height="190" fill="#000"/>
<rect x="504" y="240" width="4" height="2" fill="#000"/>
<rect x="560" y="240" width="4" height="2" fill="#000"/>
<rect x="504" y="220" width="4" height="2" fill="#000"/>
<rect x="560" y="220" width="4" height="2" fill="#000"/>
<rect x="504" y="199" width="4" height="2" fill="#000"/>
<rect x="560" y="199" width="4" height="2" fill="#000"/>
<rect x="504" y="178" width="7" height="2" fill="#000"/>
<rect x="557" y="178" width="7" height="2" fill="#000"/>
<rect x="504" y="157" width="4" height="2" fill="#000"/>
<rect x="560" y="157" width="4" height="2" fill="#000"/>
<rect x="504" y="136" width="4" height="2" fill="#000"/>
<rect x="560" y="136" width="4" height="2" fill="#000"/>
<rect x="504" y="115" width="4" height="2" fill="#000"/>
<rect x="560" y="115" width="4" height="2" fill="#000"/>
<rect x="504" y="94" width="4" height="2" fill="#000"/>
<rect x="560" y="94" width="4" height="2" fill="#000"/>
<rect x="514" y="75" width="2" height="7" fill="#000"/>
<rect x="514" y="254" width="2" height="7" fill="#000"/>
<rect x="527" y="75" width="2" height="4" fill="#000"/>
<rect x="527" y="257" width="2" height="4" fill="#000"/>
<rect x="540" y="75" width="2" height="4" fill="#000"/>
<rect x="540" y="257" width="2" height="4" fill="#000"/>
<rect x="554" y="75" width="2" height="7" fill="#000"/>
<rect x="554" y="254" width="2" height="7" fill="#000"/>
<polyline points="541.4,88.9 552.3,93.3 541.8,94.9 558.7,97.3 536.5,99.7 559.5,100.5 564.0,102.2 520.0,113.9 504.8,116.9 504.0,122.1 508.9,124.1 504.5,125.0 512.1,126.9 506.0,128.0 515.0,129.5 517.7,130.6 508.0,131.5 512.1,132.6 508.1,134.2 514.5,135.0 506.0,136.0 504.8,137.4 508.1,139.0 512.1,141.5 514.5,143.9 512.9,147.9 516.1,149.5 521.0,152.7 529.0,156.0 529.8,158.4 527.4,162.4 520.2,164.8 518.1,167.3 520.2,171.3 520.9,175.0 522.6,180.6 524.8,184.0 525.4,190.8 527.7,197.6 529.9,204.4 532.7,208.9 533.9,213.4 536.1,219.0 538.4,222.4 542.9,225.2 546.3,228.1 546.3,233.7 549.7,237.1 554.2,239.9 557.0,242.7 557.6,248.4 555.3,251.8 553.6,254.0 550.8,258.5" fill="none" stroke="#000" stroke-width="2.2" stroke-linejoin="round" shape-rendering="auto"/>
<rect x="88" y="331" width="315" height="2" fill="#000"/>
<rect x="88" y="518" width="315" height="2" fill="#000"/>
<rect x="88" y="331" width="2" height="189" fill="#000"/>
<rect x="401" y="331" width="2" height="189" fill="#000"/>
<rect x="84" y="518" width="4" height="2" fill="#000"/>
<rect x="403" y="518" width="4" height="2" fill="#000"/>
<rect x="84" y="498" width="4" height="2" fill="#000"/>
<rect x="403" y="498" width="4" height="2" fill="#000"/>
<rect x="84" y="477" width="4" height="2" fill="#000"/>
<rect x="403" y="477" width="4" height="2" fill="#000"/>
<rect x="84" y="456" width="4" height="2" fill="#000"/>
<rect x="403" y="456" width="4" height="2" fill="#000"/>
<rect x="80" y="435" width="8" height="2" fill="#000"/>
<rect x="403" y="435" width="8" height="2" fill="#000"/>
<rect x="84" y="414" width="4" height="2" fill="#000"/>
<rect x="403" y="414" width="4" height="2" fill="#000"/>
<rect x="84" y="393" width="4" height="2" fill="#000"/>
<rect x="403" y="393" width="4" height="2" fill="#000"/>
<rect x="84" y="373" width="4" height="2" fill="#000"/>
<rect x="403" y="373" width="4" height="2" fill="#000"/>
<rect x="84" y="352" width="4" height="2" fill="#000"/>
<rect x="403" y="352" width="4" height="2" fill="#000"/>
<rect x="80" y="331" width="8" height="2" fill="#000"/>
<rect x="403" y="331" width="8" height="2" fill="#000"/>
<rect x="88" y="323" width="2" height="8" fill="#000"/>
<rect x="88" y="520" width="2" height="8" fill="#000"/>
<rect x="113" y="327" width="2" height="4" fill="#000"/>
<rect x="113" y="520" width="2" height="4" fill="#000"/>
<rect x="139" y="323" width="2" height="8" fill="#000"/>
<rect x="139" y="520" width="2" height="8" fill="#000"/>
<rect x="166" y="327" width="2" height="4" fill="#000"/>
<rect x="166" y="520" width="2" height="4" fill="#000"/>
<rect x="192" y="323" width="2" height="8" fill="#000"/>
<rect x="192" y="520" width="2" height="8" fill="#000"/>
<rect x="218" y="327" width="2" height="4" fill="#000"/>
<rect x="218" y="520" width="2" height="4" fill="#000"/>
<rect x="244" y="323" width="2" height="8" fill="#000"/>
<rect x="244" y="520" width="2" height="8" fill="#000"/>
<rect x="270" y="327" width="2" height="4" fill="#000"/>
<rect x="270" y="520" width="2" height="4" fill="#000"/>
<rect x="296" y="323" width="2" height="8" fill="#000"/>
<rect x="296" y="520" width="2" height="8" fill="#000"/>
<rect x="323" y="327" width="2" height="4" fill="#000"/>
<rect x="323" y="520" width="2" height="4" fill="#000"/>
<rect x="349" y="323" width="2" height="8" fill="#000"/>
<rect x="349" y="520" width="2" height="8" fill="#000"/>
<rect x="375" y="327" width="2" height="4" fill="#000"/>
<rect x="375" y="520" width="2" height="4" fill="#000"/>
<rect x="401" y="323" width="2" height="8" fill="#000"/>
<rect x="401" y="520" width="2" height="8" fill="#000"/>
<rect x="88" y="546" width="149" height="2" fill="#000"/>
<rect x="253" y="546" width="150" height="2" fill="#000"/>
<rect x="88" y="543" width="2" height="8" fill="#000"/>
<rect x="401" y="543" width="2" height="8" fill="#000"/>
<rect x="90" y="546" width="3" height="2" fill="#0000ff"/>
<rect x="398" y="546" width="3" height="2" fill="#0000ff"/>
<rect x="423" y="368" width="24" height="152" fill="#000"/>
<rect x="425" y="370.00" width="20" height="9.25" fill="#ff3333"/>
<rect x="425" y="379.25" width="20" height="9.25" fill="#ff6633"/>
<rect x="425" y="388.50" width="20" height="9.25" fill="#ff9933"/>
<rect x="425" y="397.75" width="20" height="9.25" fill="#ffcc33"/>
<rect x="425" y="407.00" width="20" height="9.25" fill="#ffff33"/>
<rect x="425" y="416.25" width="20" height="9.25" fill="#ccff66"/>
<rect x="425" y="425.50" width="20" height="9.25" fill="#99ff99"/>
<rect x="425" y="434.75" width="20" height="9.25" fill="#66ffcc"/>
<rect x="425" y="444.00" width="20" height="9.25" fill="#33ffff"/>
<rect x="425" y="453.25" width="20" height="9.25" fill="#33ccff"/>
<rect x="425" y="462.50" width="20" height="9.25" fill="#3399ff"/>
<rect x="425" y="471.75" width="20" height="9.25" fill="#3366ff"/>
<rect x="425" y="481.00" width="20" height="9.25" fill="#3333ff"/>
<rect x="425" y="490.25" width="20" height="9.25" fill="#3333cc"/>
<rect x="425" y="499.50" width="20" height="9.25" fill="#333399"/>
<rect x="425" y="508.75" width="20" height="9.25" fill="#333366"/>
<rect x="423" y="443" width="24" height="2" fill="#000"/>
<rect x="502" y="331" width="64" height="2" fill="#000"/>
<rect x="502" y="518" width="64" height="2" fill="#000"/>
<rect x="502" y="331" width="2" height="189" fill="#000"/>
<rect x="564" y="331" width="2" height="189" fill="#000"/>
<rect x="504" y="498" width="4" height="2" fill="#000"/>
<rect x="560" y="498" width="4" height="2" fill="#000"/>
<rect x="504" y="477" width="4" height="2" fill="#000"/>
<rect x="560" y="477" width="4" height="2" fill="#000"/>
<rect x="504" y="456" width="4" height="2" fill="#000"/>
<rect x="560" y="456" width="4" height="2" fill="#000"/>
<rect x="504" y="435" width="7" height="2" fill="#000"/>
<rect x="557" y="435" width="7" height="2" fill="#000"/>
<rect x="504" y="414" width="4" height="2" fill="#000"/>
<rect x="560" y="414" width="4" height="2" fill="#000"/>
<rect x="504" y="393" width="4" height="2" fill="#000"/>
<rect x="560" y="393" width="4" height="2" fill="#000"/>
<rect x="504" y="373" width="4" height="2" fill="#000"/>
<rect x="560" y="373" width="4" height="2" fill="#000"/>
<rect x="504" y="352" width="4" height="2" fill="#000"/>
<rect x="560" y="352" width="4" height="2" fill="#000"/>
<rect x="510" y="333" width="2" height="4" fill="#000"/>
<rect x="510" y="514" width="2" height="4" fill="#000"/>
<rect x="518" y="333" width="2" height="4" fill="#000"/>
<rect x="518" y="514" width="2" height="4" fill="#000"/>
<rect x="526" y="333" width="2" height="4" fill="#000"/>
<rect x="526" y="514" width="2" height="4" fill="#000"/>
<rect x="534" y="333" width="2" height="4" fill="#000"/>
<rect x="534" y="514" width="2" height="4" fill="#000"/>
<rect x="543" y="333" width="2" height="4" fill="#000"/>
<rect x="543" y="514" width="2" height="4" fill="#000"/>
<rect x="551" y="333" width="2" height="4" fill="#000"/>
<rect x="551" y="514" width="2" height="4" fill="#000"/>
<rect x="559" y="333" width="2" height="7" fill="#000"/>
<rect x="559" y="511" width="2" height="7" fill="#000"/>
<polyline points="530.5,336.5 549.7,335.9 540.0,338.0 562.0,339.3 517.0,342.7 522.6,345.0 563.2,347.2 514.7,350.0 523.7,353.4 547.4,355.1 561.5,356.8 532.7,358.5 514.7,361.3 510.7,364.1 522.6,365.8 538.4,367.5 541.8,372.0 558.7,376.5 505.6,378.2 546.3,382.8 510.7,386.7 532.7,390.6 503.4,392.3 511.3,395.6 518.0,399.0 512.4,400.7 504.5,403.0 528.2,404.7 509.0,407.5 515.8,410.3 526.0,413.7 527.1,417.1 524.8,421.6 518.0,426.1 523.7,430.6 531.6,434.0 535.0,438.0 528.2,440.8 526.0,445.3 523.7,449.8 522.0,455.5 523.7,458.4 528.2,460.1 527.1,464.0 522.6,466.3 522.0,470.8 522.6,474.8 535.0,478.7 528.2,482.1 521.5,484.4 519.2,487.7 523.7,490.6 532.7,492.8 544.0,496.8 545.2,502.4 546.3,504.7 550.8,507.5 546.3,509.2 541.8,513.1 538.4,516.0" fill="none" stroke="#000" stroke-width="2.2" stroke-linejoin="round" shape-rendering="auto"/>
<rect x="88" y="587" width="315" height="2" fill="#000"/>
<rect x="88" y="775" width="315" height="2" fill="#000"/>
<rect x="88" y="587" width="2" height="190" fill="#000"/>
<rect x="401" y="587" width="2" height="190" fill="#000"/>
<rect x="84" y="775" width="4" height="2" fill="#000"/>
<rect x="403" y="775" width="4" height="2" fill="#000"/>
<rect x="84" y="754" width="4" height="2" fill="#000"/>
<rect x="403" y="754" width="4" height="2" fill="#000"/>
<rect x="84" y="734" width="4" height="2" fill="#000"/>
<rect x="403" y="734" width="4" height="2" fill="#000"/>
<rect x="84" y="713" width="4" height="2" fill="#000"/>
<rect x="403" y="713" width="4" height="2" fill="#000"/>
<rect x="80" y="692" width="8" height="2" fill="#000"/>
<rect x="403" y="692" width="8" height="2" fill="#000"/>
<rect x="84" y="671" width="4" height="2" fill="#000"/>
<rect x="403" y="671" width="4" height="2" fill="#000"/>
<rect x="84" y="650" width="4" height="2" fill="#000"/>
<rect x="403" y="650" width="4" height="2" fill="#000"/>
<rect x="84" y="629" width="4" height="2" fill="#000"/>
<rect x="403" y="629" width="4" height="2" fill="#000"/>
<rect x="84" y="608" width="4" height="2" fill="#000"/>
<rect x="403" y="608" width="4" height="2" fill="#000"/>
<rect x="80" y="587" width="8" height="2" fill="#000"/>
<rect x="403" y="587" width="8" height="2" fill="#000"/>
<rect x="88" y="579" width="2" height="8" fill="#000"/>
<rect x="88" y="777" width="2" height="8" fill="#000"/>
<rect x="113" y="583" width="2" height="4" fill="#000"/>
<rect x="113" y="777" width="2" height="4" fill="#000"/>
<rect x="139" y="579" width="2" height="8" fill="#000"/>
<rect x="139" y="777" width="2" height="8" fill="#000"/>
<rect x="166" y="583" width="2" height="4" fill="#000"/>
<rect x="166" y="777" width="2" height="4" fill="#000"/>
<rect x="192" y="579" width="2" height="8" fill="#000"/>
<rect x="192" y="777" width="2" height="8" fill="#000"/>
<rect x="218" y="583" width="2" height="4" fill="#000"/>
<rect x="218" y="777" width="2" height="4" fill="#000"/>
<rect x="244" y="579" width="2" height="8" fill="#000"/>
<rect x="244" y="777" width="2" height="8" fill="#000"/>
<rect x="270" y="583" width="2" height="4" fill="#000"/>
<rect x="270" y="777" width="2" height="4" fill="#000"/>
<rect x="296" y="579" width="2" height="8" fill="#000"/>
<rect x="296" y="777" width="2" height="8" fill="#000"/>
<rect x="323" y="583" width="2" height="4" fill="#000"/>
<rect x="323" y="777" width="2" height="4" fill="#000"/>
<rect x="349" y="579" width="2" height="8" fill="#000"/>
<rect x="349" y="777" width="2" height="8" fill="#000"/>
<rect x="375" y="583" width="2" height="4" fill="#000"/>
<rect x="375" y="777" width="2" height="4" fill="#000"/>
<rect x="401" y="579" width="2" height="8" fill="#000"/>
<rect x="401" y="777" width="2" height="8" fill="#000"/>
<rect x="88" y="803" width="149" height="2" fill="#000"/>
<rect x="253" y="803" width="150" height="2" fill="#000"/>
<rect x="88" y="800" width="2" height="8" fill="#000"/>
<rect x="401" y="800" width="2" height="8" fill="#000"/>
<rect x="90" y="803" width="3" height="2" fill="#0000ff"/>
<rect x="398" y="803" width="3" height="2" fill="#0000ff"/>
<rect x="423" y="624" width="24" height="153" fill="#000"/>
<rect x="425" y="626.00" width="20" height="9.31" fill="#ff3333"/>
<rect x="425" y="635.31" width="20" height="9.31" fill="#ff6633"/>
<rect x="425" y="644.62" width="20" height="9.31" fill="#ff9933"/>
<rect x="425" y="653.94" width="20" height="9.31" fill="#ffcc33"/>
<rect x="425" y="663.25" width="20" height="9.31" fill="#ffff33"/>
<rect x="425" y="672.56" width="20" height="9.31" fill="#ccff66"/>
<rect x="425" y="681.88" width="20" height="9.31" fill="#99ff99"/>
<rect x="425" y="691.19" width="20" height="9.31" fill="#66ffcc"/>
<rect x="425" y="700.50" width="20" height="9.31" fill="#33ffff"/>
<rect x="425" y="709.81" width="20" height="9.31" fill="#33ccff"/>
<rect x="425" y="719.12" width="20" height="9.31" fill="#3399ff"/>
<rect x="425" y="728.44" width="20" height="9.31" fill="#3366ff"/>
<rect x="425" y="737.75" width="20" height="9.31" fill="#3333ff"/>
<rect x="425" y="747.06" width="20" height="9.31" fill="#3333cc"/>
<rect x="425" y="756.38" width="20" height="9.31" fill="#333399"/>
<rect x="425" y="765.69" width="20" height="9.31" fill="#333366"/>
<rect x="502" y="587" width="64" height="2" fill="#000"/>
<rect x="502" y="775" width="64" height="2" fill="#000"/>
<rect x="502" y="587" width="2" height="190" fill="#000"/>
<rect x="564" y="587" width="2" height="190" fill="#000"/>
<rect x="504" y="754" width="4" height="2" fill="#000"/>
<rect x="560" y="754" width="4" height="2" fill="#000"/>
<rect x="504" y="734" width="4" height="2" fill="#000"/>
<rect x="560" y="734" width="4" height="2" fill="#000"/>
<rect x="504" y="713" width="4" height="2" fill="#000"/>
<rect x="560" y="713" width="4" height="2" fill="#000"/>
<rect x="504" y="692" width="7" height="2" fill="#000"/>
<rect x="557" y="692" width="7" height="2" fill="#000"/>
<rect x="504" y="671" width="4" height="2" fill="#000"/>
<rect x="560" y="671" width="4" height="2" fill="#000"/>
<rect x="504" y="650" width="4" height="2" fill="#000"/>
<rect x="560" y="650" width="4" height="2" fill="#000"/>
<rect x="504" y="629" width="4" height="2" fill="#000"/>
<rect x="560" y="629" width="4" height="2" fill="#000"/>
<rect x="504" y="608" width="4" height="2" fill="#000"/>
<rect x="560" y="608" width="4" height="2" fill="#000"/>
<rect x="514" y="589" width="2" height="4" fill="#000"/>
<rect x="514" y="771" width="2" height="4" fill="#000"/>
<rect x="526" y="589" width="2" height="4" fill="#000"/>
<rect x="526" y="771" width="2" height="4" fill="#000"/>
<rect x="538" y="589" width="2" height="4" fill="#000"/>
<rect x="538" y="771" width="2" height="4" fill="#000"/>
<rect x="549" y="589" width="2" height="4" fill="#000"/>
<rect x="549" y="771" width="2" height="4" fill="#000"/>
<rect x="561" y="589" width="2" height="7" fill="#000"/>
<rect x="561" y="768" width="2" height="7" fill="#000"/>
<polyline points="522.6,589.6 515.8,590.8 515.0,594.7 502.3,594.7 515.8,596.4 539.5,598.1 520.3,600.9 530.5,602.6 535.0,606.0 528.2,608.3 523.7,612.2 514.7,614.3 527.1,616.2 518.0,620.1 529.4,623.0 535.0,629.2 549.7,633.7 563.8,635.9 549.7,636.5 542.9,639.3 540.6,643.8 532.7,646.1 518.6,648.9 537.3,650.6 528.2,652.2 552.5,654.8 522.6,656.7 518.6,660.1 548.5,662.9 531.6,664.6 536.1,669.1 530.5,673.1 527.1,677.0 541.8,679.9 527.1,682.7 536.1,686.1 529.9,690.6 536.1,695.7 532.7,699.1 537.3,701.9 529.4,704.7 529.4,709.2 535.0,712.8 528.8,715.6 532.7,719.0 531.6,722.4 527.1,726.9 529.9,729.8 524.8,733.1 528.8,735.4 526.5,739.4 516.9,741.0 516.9,743.3 523.7,749.0 518.0,752.3 510.2,755.2 506.8,758.5 503.4,761.9 502.8,765.3 507.9,767.0 509.6,772.7" fill="none" stroke="#000" stroke-width="2.2" stroke-linejoin="round" shape-rendering="auto"/>
<rect x="619" y="0" width="1" height="1" fill="#ffff00"/><g opacity="0.999"><text transform="scale(1.1558,1)" font-family="'Liberation Serif', serif" font-weight="bold"><tspan x="56.52" y="77.70" font-size="11.67">2</tspan><tspan x="62.12" y="77.59" font-size="11.41">0</tspan></text>
<text transform="scale(1.1250,1)" font-family="'Liberation Serif', serif" font-weight="bold"><tspan x="58.48" y="183.00" font-size="12.12">1</tspan><tspan x="64.41" y="182.88" font-size="11.85">0</tspan></text>
<text transform="translate(59.87,208.43) rotate(-90) scale(1.126,1)" font-size="13.77" font-family="'Liberation Serif', serif" font-weight="bold">Height (km)</text>
<text transform="translate(208.06,59.00) scale(1.075,1)" font-size="13.24" font-family="'Liberation Serif', serif" font-weight="bold">Zonal Wind</text>
<text transform="scale(1.0714,1)" font-family="'Liberation Serif', serif" font-weight="bold"><tspan x="81.36" y="281.48" font-size="12.44">0</tspan></text>
<text transform="scale(0.9462,1)" font-family="'Liberation Serif', serif" font-weight="bold"><tspan x="146.39" y="281.60" font-size="12.73">4</tspan></text>
<text transform="scale(1.0465,1)" font-family="'Liberation Serif', serif" font-weight="bold"><tspan x="182.74" y="281.48" font-size="12.44">8</tspan></text>
<text transform="scale(1.0476,1)" font-family="'Liberation Serif', serif" font-weight="bold"><tspan x="228.87" y="281.60" font-size="12.73">1</tspan><tspan x="235.17" y="281.60" font-size="12.73">2</tspan></text>
<text transform="scale(1.0268,1)" font-family="'Liberation Serif', serif" font-weight="bold"><tspan x="284.21" y="281.60" font-size="12.73">1</tspan><tspan x="290.65" y="281.47" font-size="12.54">6</tspan></text>
<text transform="scale(1.0595,1)" font-family="'Liberation Serif', serif" font-weight="bold"><tspan x="325.55" y="281.60" font-size="12.73">2</tspan><tspan x="331.66" y="281.48" font-size="12.44">0</tspan></text>
<text transform="scale(1.0714,1)" font-family="'Liberation Serif', serif" font-weight="bold"><tspan x="373.49" y="281.48" font-size="12.44">0</tspan></text>
<text transform="scale(1.1385,1)" font-family="'Liberation Serif', serif" font-weight="bold"><tspan x="209.46" y="293.70" font-size="11.67">2</tspan><tspan x="214.89" y="293.70" font-size="11.76">7</tspan></text>
<text transform="scale(1.1890,1)" font-family="'Liberation Serif', serif" font-weight="bold"><tspan x="349.10" y="293.19" font-size="10.90">Oct </tspan><tspan x="368.13" y="293.30" font-size="11.06">2</tspan><tspan x="373.57" y="293.19" font-size="10.81">0</tspan><tspan x="378.89" y="293.30" font-size="11.06">2</tspan><tspan x="384.29" y="293.19" font-size="10.90">6</tspan></text>
<text transform="scale(1.1579,1)" font-family="'Liberation Serif', serif" font-weight="bold"><tspan x="394.22" y="126.05" font-size="11.52">2</tspan><tspan x="399.58" y="126.05" font-size="11.52">1</tspan></text>
<text transform="scale(1.1529,1)" font-family="'Liberation Serif', serif" font-weight="bold"><tspan x="395.75" y="144.55" font-size="11.52">1</tspan><tspan x="401.47" y="144.44" font-size="11.43">5</tspan></text>
<text transform="scale(1.1220,1)" font-family="'Liberation Serif', serif" font-weight="bold"><tspan x="412.73" y="162.94" font-size="11.34">9</tspan></text>
<text transform="scale(1.1481,1)" font-family="'Liberation Serif', serif" font-weight="bold"><tspan x="403.23" y="181.44" font-size="11.34">3</tspan></text>
<text transform="scale(1.1481,1)" font-family="'Liberation Serif', serif" font-weight="bold"><tspan x="397.06" y="201.18" font-size="20.77">-</tspan><tspan x="403.23" y="199.94" font-size="11.34">3</tspan></text>
<text transform="scale(1.1220,1)" font-family="'Liberation Serif', serif" font-weight="bold"><tspan x="406.29" y="219.80" font-size="21.25">-</tspan><tspan x="412.73" y="218.44" font-size="11.34">9</tspan></text>
<text transform="scale(1.1529,1)" font-family="'Liberation Serif', serif" font-weight="bold"><tspan x="389.84" y="238.16" font-size="20.68">-</tspan><tspan x="395.75" y="237.05" font-size="11.52">1</tspan><tspan x="401.47" y="236.94" font-size="11.43">5</tspan></text>
<text transform="scale(1.1579,1)" font-family="'Liberation Serif', serif" font-weight="bold"><tspan x="388.17" y="256.64" font-size="20.59">-</tspan><tspan x="394.22" y="255.55" font-size="11.52">2</tspan><tspan x="399.58" y="255.55" font-size="11.52">1</tspan></text>
<text transform="scale(1.1500,1)" font-family="'Liberation Serif', serif" font-weight="bold"><tspan x="357.78" y="104.54" font-size="15.16">(</tspan><tspan x="362.62" y="104.36" font-size="13.54">ms</tspan><tspan x="378.11" y="103.62" font-size="24.08">-</tspan><tspan x="384.69" y="100.90" font-size="11.67">1</tspan><tspan x="389.70" y="104.54" font-size="15.16">)</tspan></text>
<text transform="scale(1.0723,1)" font-family="'Liberation Serif', serif" font-weight="bold"><tspan x="466.17" y="276.73" font-size="22.24">-</tspan><tspan x="472.66" y="275.60" font-size="12.58">2</tspan><tspan x="478.70" y="275.48" font-size="12.30">0</tspan></text>
<text transform="scale(1.0843,1)" font-family="'Liberation Serif', serif" font-weight="bold"><tspan x="505.55" y="275.60" font-size="12.58">1</tspan><tspan x="511.71" y="275.48" font-size="12.30">0</tspan></text>
<text transform="translate(507.75,66.75) scale(1.020,1)" font-size="14.32" font-family="'Liberation Serif', serif" font-weight="bold">Average</text>
<text transform="scale(1.2361,1)" font-family="'Liberation Serif', serif" font-weight="bold"><tspan x="392.06" y="77.80" font-size="10.91">2</tspan><tspan x="397.30" y="77.69" font-size="10.67">0</tspan></text>
<text transform="scale(1.3433,1)" font-family="'Liberation Serif', serif" font-weight="bold"><tspan x="361.12" y="182.70" font-size="10.15">1</tspan><tspan x="366.09" y="182.60" font-size="9.93">0</tspan></text>
<text transform="scale(1.1500,1)" font-family="'Liberation Serif', serif" font-weight="bold"><tspan x="445.34" y="290.94" font-size="15.16">(</tspan><tspan x="450.18" y="290.76" font-size="13.54">ms</tspan><tspan x="465.68" y="290.02" font-size="24.08">-</tspan><tspan x="472.26" y="287.30" font-size="11.67">1</tspan><tspan x="477.27" y="290.94" font-size="15.16">)</tspan></text>
<text transform="scale(1.1558,1)" font-family="'Liberation Serif', serif" font-weight="bold"><tspan x="56.52" y="335.70" font-size="11.67">2</tspan><tspan x="62.12" y="335.59" font-size="11.41">0</tspan></text>
<text transform="scale(1.1250,1)" font-family="'Liberation Serif', serif" font-weight="bold"><tspan x="58.48" y="440.00" font-size="12.12">1</tspan><tspan x="64.41" y="439.88" font-size="11.85">0</tspan></text>
<text transform="translate(59.87,466.43) rotate(-90) scale(1.126,1)" font-size="13.77" font-family="'Liberation Serif', serif" font-weight="bold">Height (km)</text>
<text transform="translate(192.49,317.00) scale(1.074,1)" font-size="13.24" font-family="'Liberation Serif', serif" font-weight="bold">Meridional Wind</text>
<text transform="scale(1.0714,1)" font-family="'Liberation Serif', serif" font-weight="bold"><tspan x="81.36" y="538.48" font-size="12.44">0</tspan></text>
<text transform="scale(0.9462,1)" font-family="'Liberation Serif', serif" font-weight="bold"><tspan x="146.39" y="538.60" font-size="12.73">4</tspan></text>
<text transform="scale(1.0465,1)" font-family="'Liberation Serif', serif" font-weight="bold"><tspan x="182.74" y="538.48" font-size="12.44">8</tspan></text>
<text transform="scale(1.0476,1)" font-family="'Liberation Serif', serif" font-weight="bold"><tspan x="228.87" y="538.60" font-size="12.73">1</tspan><tspan x="235.17" y="538.60" font-size="12.73">2</tspan></text>
<text transform="scale(1.0268,1)" font-family="'Liberation Serif', serif" font-weight="bold"><tspan x="284.21" y="538.60" font-size="12.73">1</tspan><tspan x="290.65" y="538.47" font-size="12.54">6</tspan></text>
<text transform="scale(1.0595,1)" font-family="'Liberation Serif', serif" font-weight="bold"><tspan x="325.55" y="538.60" font-size="12.73">2</tspan><tspan x="331.66" y="538.48" font-size="12.44">0</tspan></text>
<text transform="scale(1.0714,1)" font-family="'Liberation Serif', serif" font-weight="bold"><tspan x="373.49" y="538.48" font-size="12.44">0</tspan></text>
<text transform="scale(1.1385,1)" font-family="'Liberation Serif', serif" font-weight="bold"><tspan x="209.46" y="550.70" font-size="11.67">2</tspan><tspan x="214.89" y="550.70" font-size="11.76">7</tspan></text>
<text transform="scale(1.1890,1)" font-family="'Liberation Serif', serif" font-weight="bold"><tspan x="349.10" y="550.19" font-size="10.90">Oct </tspan><tspan x="368.13" y="550.30" font-size="11.06">2</tspan><tspan x="373.57" y="550.19" font-size="10.81">0</tspan><tspan x="378.89" y="550.30" font-size="11.06">2</tspan><tspan x="384.29" y="550.19" font-size="10.90">6</tspan></text>
<text transform="scale(1.1579,1)" font-family="'Liberation Serif', serif" font-weight="bold"><tspan x="394.22" y="383.05" font-size="11.52">2</tspan><tspan x="399.58" y="383.05" font-size="11.52">1</tspan></text>
<text transform="scale(1.1529,1)" font-family="'Liberation Serif', serif" font-weight="bold"><tspan x="395.75" y="401.55" font-size="11.52">1</tspan><tspan x="401.47" y="401.44" font-size="11.43">5</tspan></text>
<text transform="scale(1.1220,1)" font-family="'Liberation Serif', serif" font-weight="bold"><tspan x="412.73" y="419.94" font-size="11.34">9</tspan></text>
<text transform="scale(1.1481,1)" font-family="'Liberation Serif', serif" font-weight="bold"><tspan x="403.23" y="438.44" font-size="11.34">3</tspan></text>
<text transform="scale(1.1481,1)" font-family="'Liberation Serif', serif" font-weight="bold"><tspan x="397.06" y="458.18" font-size="20.77">-</tspan><tspan x="403.23" y="456.94" font-size="11.34">3</tspan></text>
<text transform="scale(1.1220,1)" font-family="'Liberation Serif', serif" font-weight="bold"><tspan x="406.29" y="476.80" font-size="21.25">-</tspan><tspan x="412.73" y="475.44" font-size="11.34">9</tspan></text>
<text transform="scale(1.1529,1)" font-family="'Liberation Serif', serif" font-weight="bold"><tspan x="389.84" y="495.16" font-size="20.68">-</tspan><tspan x="395.75" y="494.05" font-size="11.52">1</tspan><tspan x="401.47" y="493.94" font-size="11.43">5</tspan></text>
<text transform="scale(1.1579,1)" font-family="'Liberation Serif', serif" font-weight="bold"><tspan x="388.17" y="513.64" font-size="20.59">-</tspan><tspan x="394.22" y="512.55" font-size="11.52">2</tspan><tspan x="399.58" y="512.55" font-size="11.52">1</tspan></text>
<text transform="scale(1.1500,1)" font-family="'Liberation Serif', serif" font-weight="bold"><tspan x="357.78" y="362.54" font-size="15.16">(</tspan><tspan x="362.62" y="362.36" font-size="13.54">ms</tspan><tspan x="378.11" y="361.62" font-size="24.08">-</tspan><tspan x="384.69" y="358.90" font-size="11.67">1</tspan><tspan x="389.70" y="362.54" font-size="15.16">)</tspan></text>
<text transform="scale(1.0591,1)" font-family="'Liberation Serif', serif" font-weight="bold"><tspan x="464.41" y="533.80" font-size="22.52">-</tspan><tspan x="471.09" y="532.48" font-size="12.30">8</tspan></text>
<text transform="scale(1.0392,1)" font-family="'Liberation Serif', serif" font-weight="bold"><tspan x="535.18" y="532.48" font-size="12.39">6</tspan></text>
<text transform="translate(507.75,324.75) scale(1.020,1)" font-size="14.32" font-family="'Liberation Serif', serif" font-weight="bold">Average</text>
<text transform="scale(1.2361,1)" font-family="'Liberation Serif', serif" font-weight="bold"><tspan x="392.06" y="335.80" font-size="10.91">2</tspan><tspan x="397.30" y="335.69" font-size="10.67">0</tspan></text>
<text transform="scale(1.3433,1)" font-family="'Liberation Serif', serif" font-weight="bold"><tspan x="361.12" y="439.70" font-size="10.15">1</tspan><tspan x="366.09" y="439.60" font-size="9.93">0</tspan></text>
<text transform="scale(1.1500,1)" font-family="'Liberation Serif', serif" font-weight="bold"><tspan x="445.34" y="547.94" font-size="15.16">(</tspan><tspan x="450.18" y="547.76" font-size="13.54">ms</tspan><tspan x="465.68" y="547.02" font-size="24.08">-</tspan><tspan x="472.26" y="544.30" font-size="11.67">1</tspan><tspan x="477.27" y="547.94" font-size="15.16">)</tspan></text>
<text transform="scale(1.1558,1)" font-family="'Liberation Serif', serif" font-weight="bold"><tspan x="56.52" y="591.70" font-size="11.67">2</tspan><tspan x="62.12" y="591.59" font-size="11.41">0</tspan></text>
<text transform="scale(1.1250,1)" font-family="'Liberation Serif', serif" font-weight="bold"><tspan x="58.48" y="697.00" font-size="12.12">1</tspan><tspan x="64.41" y="696.88" font-size="11.85">0</tspan></text>
<text transform="translate(59.87,722.43) rotate(-90) scale(1.126,1)" font-size="13.77" font-family="'Liberation Serif', serif" font-weight="bold">Height (km)</text>
<text transform="translate(201.35,573.00) scale(1.096,1)" font-size="13.24" font-family="'Liberation Serif', serif" font-weight="bold">Vertical Wind</text>
<text transform="scale(1.0714,1)" font-family="'Liberation Serif', serif" font-weight="bold"><tspan x="81.36" y="795.48" font-size="12.44">0</tspan></text>
<text transform="scale(0.9462,1)" font-family="'Liberation Serif', serif" font-weight="bold"><tspan x="146.39" y="795.60" font-size="12.73">4</tspan></text>
<text transform="scale(1.0465,1)" font-family="'Liberation Serif', serif" font-weight="bold"><tspan x="182.74" y="795.48" font-size="12.44">8</tspan></text>
<text transform="scale(1.0476,1)" font-family="'Liberation Serif', serif" font-weight="bold"><tspan x="228.87" y="795.60" font-size="12.73">1</tspan><tspan x="235.17" y="795.60" font-size="12.73">2</tspan></text>
<text transform="scale(1.0268,1)" font-family="'Liberation Serif', serif" font-weight="bold"><tspan x="284.21" y="795.60" font-size="12.73">1</tspan><tspan x="290.65" y="795.47" font-size="12.54">6</tspan></text>
<text transform="scale(1.0595,1)" font-family="'Liberation Serif', serif" font-weight="bold"><tspan x="325.55" y="795.60" font-size="12.73">2</tspan><tspan x="331.66" y="795.48" font-size="12.44">0</tspan></text>
<text transform="scale(1.0714,1)" font-family="'Liberation Serif', serif" font-weight="bold"><tspan x="373.49" y="795.48" font-size="12.44">0</tspan></text>
<text transform="scale(1.1385,1)" font-family="'Liberation Serif', serif" font-weight="bold"><tspan x="209.46" y="807.70" font-size="11.67">2</tspan><tspan x="214.89" y="807.70" font-size="11.76">7</tspan></text>
<text transform="scale(1.1890,1)" font-family="'Liberation Serif', serif" font-weight="bold"><tspan x="349.10" y="807.19" font-size="10.90">Oct </tspan><tspan x="368.13" y="807.30" font-size="11.06">2</tspan><tspan x="373.57" y="807.19" font-size="10.81">0</tspan><tspan x="378.89" y="807.30" font-size="11.06">2</tspan><tspan x="384.29" y="807.19" font-size="10.90">6</tspan></text>
<text transform="scale(1.1148,1)" font-family="'Liberation Serif', serif" font-weight="bold"><tspan x="409.96" y="639.00" font-size="11.34">3</tspan><tspan x="416.74" y="638.90" font-size="14.37">.</tspan><tspan x="421.39" y="639.00" font-size="11.43">5</tspan></text>
<text transform="scale(1.1181,1)" font-family="'Liberation Serif', serif" font-weight="bold"><tspan x="408.71" y="657.74" font-size="11.52">2</tspan><tspan x="415.52" y="657.52" font-size="14.37">.</tspan><tspan x="420.15" y="657.62" font-size="11.43">5</tspan></text>
<text transform="scale(1.0982,1)" font-family="'Liberation Serif', serif" font-weight="bold"><tspan x="415.99" y="676.36" font-size="11.52">1</tspan><tspan x="423.08" y="676.15" font-size="14.37">.</tspan><tspan x="427.82" y="676.25" font-size="11.43">5</tspan></text>
<text transform="scale(1.1269,1)" font-family="'Liberation Serif', serif" font-weight="bold"><tspan x="405.57" y="694.87" font-size="11.26">0</tspan><tspan x="412.27" y="694.77" font-size="14.37">.</tspan><tspan x="416.86" y="694.87" font-size="11.43">5</tspan></text>
<text transform="scale(1.1269,1)" font-family="'Liberation Serif', serif" font-weight="bold"><tspan x="399.21" y="714.84" font-size="21.16">-</tspan><tspan x="405.57" y="713.50" font-size="11.26">0</tspan><tspan x="412.27" y="713.40" font-size="14.37">.</tspan><tspan x="416.86" y="713.50" font-size="11.43">5</tspan></text>
<text transform="scale(1.0982,1)" font-family="'Liberation Serif', serif" font-weight="bold"><tspan x="409.64" y="733.59" font-size="21.71">-</tspan><tspan x="415.99" y="732.24" font-size="11.52">1</tspan><tspan x="423.08" y="732.02" font-size="14.37">.</tspan><tspan x="427.82" y="732.12" font-size="11.43">5</tspan></text>
<text transform="scale(1.1181,1)" font-family="'Liberation Serif', serif" font-weight="bold"><tspan x="402.35" y="752.13" font-size="21.33">-</tspan><tspan x="408.71" y="750.86" font-size="11.52">2</tspan><tspan x="415.52" y="750.65" font-size="14.37">.</tspan><tspan x="420.15" y="750.75" font-size="11.43">5</tspan></text>
<text transform="scale(1.1148,1)" font-family="'Liberation Serif', serif" font-weight="bold"><tspan x="403.52" y="770.77" font-size="21.39">-</tspan><tspan x="409.96" y="769.37" font-size="11.34">3</tspan><tspan x="416.74" y="769.27" font-size="14.37">.</tspan><tspan x="421.39" y="769.37" font-size="11.43">5</tspan></text>
<text transform="scale(1.1500,1)" font-family="'Liberation Serif', serif" font-weight="bold"><tspan x="357.78" y="618.54" font-size="15.16">(</tspan><tspan x="362.62" y="618.36" font-size="13.54">ms</tspan><tspan x="378.11" y="617.62" font-size="24.08">-</tspan><tspan x="384.69" y="614.90" font-size="11.67">1</tspan><tspan x="389.70" y="618.54" font-size="15.16">)</tspan></text>
<text transform="scale(1.0627,1)" font-family="'Liberation Serif', serif" font-weight="bold"><tspan x="457.49" y="790.78" font-size="22.44">-</tspan><tspan x="464.14" y="789.48" font-size="12.30">0</tspan><tspan x="471.44" y="789.38" font-size="14.37">.</tspan><tspan x="476.11" y="789.60" font-size="12.58">2</tspan></text>
<text transform="scale(1.0597,1)" font-family="'Liberation Serif', serif" font-weight="bold"><tspan x="520.28" y="789.48" font-size="12.30">0</tspan><tspan x="527.60" y="789.38" font-size="14.37">.</tspan><tspan x="532.34" y="789.48" font-size="12.39">3</tspan></text>
<text transform="translate(507.75,580.75) scale(1.020,1)" font-size="14.32" font-family="'Liberation Serif', serif" font-weight="bold">Average</text>
<text transform="scale(1.2361,1)" font-family="'Liberation Serif', serif" font-weight="bold"><tspan x="392.06" y="591.80" font-size="10.91">2</tspan><tspan x="397.30" y="591.69" font-size="10.67">0</tspan></text>
<text transform="scale(1.3433,1)" font-family="'Liberation Serif', serif" font-weight="bold"><tspan x="361.12" y="696.70" font-size="10.15">1</tspan><tspan x="366.09" y="696.60" font-size="9.93">0</tspan></text>
<text transform="scale(1.1500,1)" font-family="'Liberation Serif', serif" font-weight="bold"><tspan x="445.34" y="804.94" font-size="15.16">(</tspan><tspan x="450.18" y="804.76" font-size="13.54">ms</tspan><tspan x="465.68" y="804.02" font-size="24.08">-</tspan><tspan x="472.26" y="801.30" font-size="11.67">1</tspan><tspan x="477.27" y="804.94" font-size="15.16">)</tspan></text>
<text transform="translate(208.68,823.07) scale(1.148,1)" font-size="13.05" font-family="'Liberation Serif', serif" font-weight="bold">Local Time</text></g></svg></body></html>
